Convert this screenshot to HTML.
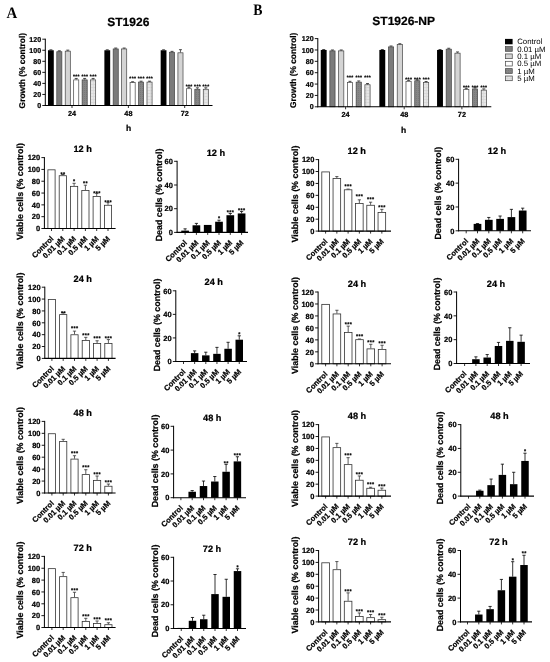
<!DOCTYPE html>
<html><head><meta charset="utf-8"><style>html,body{margin:0;padding:0;background:#fff;overflow:hidden;}svg{display:block;filter:grayscale(1);text-rendering:geometricPrecision;}</style></head>
<body>
<svg width="550" height="662" viewBox="0 0 550 662">
<defs><pattern id="p4" width="2" height="2" patternUnits="userSpaceOnUse"><rect width="2" height="2" fill="#868686"/><rect width="1" height="1" fill="#7a7a7a"/></pattern><pattern id="p5" width="3" height="3" patternUnits="userSpaceOnUse"><rect width="3" height="3" fill="#e6e6e6"/><rect width="3" height="0.6" fill="#d2d2d2"/><rect width="0.6" height="3" fill="#d8d8d8"/></pattern></defs>
<rect width="550" height="662" fill="#fff"/>
<text x="0" y="0" font-family='"Liberation Serif", serif' font-size="16" font-weight="bold" text-anchor="middle" fill="#000" transform="translate(12 17.6) scale(0.93 1)">A</text>
<text x="0" y="0" font-family='"Liberation Serif", serif' font-size="16" font-weight="bold" text-anchor="middle" fill="#000" transform="translate(257.8 15) scale(0.86 1)">B</text>
<rect x="47.98" y="50.25" width="5.8" height="55.25" fill="#000"/>
<line x1="50.88" y1="49.81" x2="50.88" y2="50.25" stroke="#222" stroke-width="0.7"/>
<line x1="49.38" y1="49.81" x2="52.38" y2="49.81" stroke="#222" stroke-width="0.8"/>
<rect x="56.78" y="51.71" width="5.1" height="53.79" fill="#7b7b7b" stroke="#444" stroke-width="0.7"/>
<line x1="59.33" y1="50.8" x2="59.33" y2="51.36" stroke="#222" stroke-width="0.7"/>
<line x1="57.83" y1="50.8" x2="60.83" y2="50.8" stroke="#222" stroke-width="0.8"/>
<rect x="65.22" y="51.15" width="5.1" height="54.35" fill="#d4d4d4" stroke="#444" stroke-width="0.7"/>
<line x1="67.78" y1="50.14" x2="67.78" y2="50.8" stroke="#222" stroke-width="0.7"/>
<line x1="66.28" y1="50.14" x2="69.28" y2="50.14" stroke="#222" stroke-width="0.8"/>
<rect x="73.67" y="79.88" width="5.1" height="25.62" fill="#fff" stroke="#444" stroke-width="0.7"/>
<line x1="76.22" y1="78.43" x2="76.22" y2="79.53" stroke="#222" stroke-width="0.7"/>
<line x1="74.72" y1="78.43" x2="77.72" y2="78.43" stroke="#222" stroke-width="0.8"/>
<text x="76.4" y="78" font-family='"Liberation Sans", sans-serif' font-size="5" font-weight="bold" text-anchor="middle" fill="#000" stroke="#000" stroke-width="0.22" letter-spacing="0.35">***</text>
<rect x="82.12" y="79.88" width="5.1" height="25.62" fill="url(#p4)" stroke="#444" stroke-width="0.7"/>
<line x1="84.67" y1="78.43" x2="84.67" y2="79.53" stroke="#222" stroke-width="0.7"/>
<line x1="83.17" y1="78.43" x2="86.17" y2="78.43" stroke="#222" stroke-width="0.8"/>
<text x="84.85" y="78" font-family='"Liberation Sans", sans-serif' font-size="5" font-weight="bold" text-anchor="middle" fill="#000" stroke="#000" stroke-width="0.22" letter-spacing="0.35">***</text>
<rect x="90.57" y="79.88" width="5.1" height="25.62" fill="url(#p5)" stroke="#444" stroke-width="0.7"/>
<line x1="93.12" y1="78.43" x2="93.12" y2="79.53" stroke="#222" stroke-width="0.7"/>
<line x1="91.62" y1="78.43" x2="94.62" y2="78.43" stroke="#222" stroke-width="0.8"/>
<text x="93.3" y="78" font-family='"Liberation Sans", sans-serif' font-size="5" font-weight="bold" text-anchor="middle" fill="#000" stroke="#000" stroke-width="0.22" letter-spacing="0.35">***</text>
<line x1="72" y1="105.5" x2="72" y2="108" stroke="#000" stroke-width="0.8"/>
<text x="72" y="115.7" font-family='"Liberation Sans", sans-serif' font-size="7.3" font-weight="bold" text-anchor="middle" fill="#000" stroke="#000" stroke-width="0.22" >24</text>
<rect x="104.38" y="50.25" width="5.8" height="55.25" fill="#000"/>
<line x1="107.28" y1="49.81" x2="107.28" y2="50.25" stroke="#222" stroke-width="0.7"/>
<line x1="105.78" y1="49.81" x2="108.78" y2="49.81" stroke="#222" stroke-width="0.8"/>
<rect x="113.17" y="48.94" width="5.1" height="56.56" fill="#7b7b7b" stroke="#444" stroke-width="0.7"/>
<line x1="115.73" y1="48.04" x2="115.73" y2="48.59" stroke="#222" stroke-width="0.7"/>
<line x1="114.23" y1="48.04" x2="117.23" y2="48.04" stroke="#222" stroke-width="0.8"/>
<rect x="121.62" y="48.94" width="5.1" height="56.56" fill="#d4d4d4" stroke="#444" stroke-width="0.7"/>
<line x1="124.18" y1="48.04" x2="124.18" y2="48.59" stroke="#222" stroke-width="0.7"/>
<line x1="122.68" y1="48.04" x2="125.68" y2="48.04" stroke="#222" stroke-width="0.8"/>
<rect x="130.07" y="82.64" width="5.1" height="22.85" fill="#fff" stroke="#444" stroke-width="0.7"/>
<line x1="132.62" y1="81.74" x2="132.62" y2="82.3" stroke="#222" stroke-width="0.7"/>
<line x1="131.12" y1="81.74" x2="134.12" y2="81.74" stroke="#222" stroke-width="0.8"/>
<text x="132.8" y="80.2" font-family='"Liberation Sans", sans-serif' font-size="5" font-weight="bold" text-anchor="middle" fill="#000" stroke="#000" stroke-width="0.22" letter-spacing="0.35">***</text>
<rect x="138.53" y="82.09" width="5.1" height="23.41" fill="url(#p4)" stroke="#444" stroke-width="0.7"/>
<line x1="141.08" y1="81.19" x2="141.08" y2="81.74" stroke="#222" stroke-width="0.7"/>
<line x1="139.58" y1="81.19" x2="142.58" y2="81.19" stroke="#222" stroke-width="0.8"/>
<text x="141.25" y="80.2" font-family='"Liberation Sans", sans-serif' font-size="5" font-weight="bold" text-anchor="middle" fill="#000" stroke="#000" stroke-width="0.22" letter-spacing="0.35">***</text>
<rect x="146.97" y="82.09" width="5.1" height="23.41" fill="url(#p5)" stroke="#444" stroke-width="0.7"/>
<line x1="149.53" y1="81.19" x2="149.53" y2="81.74" stroke="#222" stroke-width="0.7"/>
<line x1="148.03" y1="81.19" x2="151.03" y2="81.19" stroke="#222" stroke-width="0.8"/>
<text x="149.7" y="80.2" font-family='"Liberation Sans", sans-serif' font-size="5" font-weight="bold" text-anchor="middle" fill="#000" stroke="#000" stroke-width="0.22" letter-spacing="0.35">***</text>
<line x1="128.4" y1="105.5" x2="128.4" y2="108" stroke="#000" stroke-width="0.8"/>
<text x="128.4" y="115.7" font-family='"Liberation Sans", sans-serif' font-size="7.3" font-weight="bold" text-anchor="middle" fill="#000" stroke="#000" stroke-width="0.22" >48</text>
<rect x="160.67" y="50.25" width="5.8" height="55.25" fill="#000"/>
<line x1="163.57" y1="49.81" x2="163.57" y2="50.25" stroke="#222" stroke-width="0.7"/>
<line x1="162.07" y1="49.81" x2="165.07" y2="49.81" stroke="#222" stroke-width="0.8"/>
<rect x="169.47" y="52.26" width="5.1" height="53.24" fill="#7b7b7b" stroke="#444" stroke-width="0.7"/>
<line x1="172.02" y1="51.36" x2="172.02" y2="51.91" stroke="#222" stroke-width="0.7"/>
<line x1="170.52" y1="51.36" x2="173.52" y2="51.36" stroke="#222" stroke-width="0.8"/>
<rect x="177.92" y="52.81" width="5.1" height="52.69" fill="#d4d4d4" stroke="#444" stroke-width="0.7"/>
<line x1="180.47" y1="49.7" x2="180.47" y2="52.46" stroke="#222" stroke-width="0.7"/>
<line x1="178.97" y1="49.7" x2="181.97" y2="49.7" stroke="#222" stroke-width="0.8"/>
<rect x="186.37" y="88.72" width="5.1" height="16.78" fill="#fff" stroke="#444" stroke-width="0.7"/>
<line x1="188.92" y1="87.27" x2="188.92" y2="88.37" stroke="#222" stroke-width="0.7"/>
<line x1="187.42" y1="87.27" x2="190.42" y2="87.27" stroke="#222" stroke-width="0.8"/>
<text x="189.1" y="87.5" font-family='"Liberation Sans", sans-serif' font-size="5" font-weight="bold" text-anchor="middle" fill="#000" stroke="#000" stroke-width="0.22" letter-spacing="0.35">***</text>
<rect x="194.82" y="89.27" width="5.1" height="16.23" fill="url(#p4)" stroke="#444" stroke-width="0.7"/>
<line x1="197.38" y1="87.82" x2="197.38" y2="88.92" stroke="#222" stroke-width="0.7"/>
<line x1="195.88" y1="87.82" x2="198.88" y2="87.82" stroke="#222" stroke-width="0.8"/>
<text x="197.55" y="87.5" font-family='"Liberation Sans", sans-serif' font-size="5" font-weight="bold" text-anchor="middle" fill="#000" stroke="#000" stroke-width="0.22" letter-spacing="0.35">***</text>
<rect x="203.27" y="89.27" width="5.1" height="16.23" fill="url(#p5)" stroke="#444" stroke-width="0.7"/>
<line x1="205.82" y1="87.82" x2="205.82" y2="88.92" stroke="#222" stroke-width="0.7"/>
<line x1="204.32" y1="87.82" x2="207.32" y2="87.82" stroke="#222" stroke-width="0.8"/>
<text x="206" y="87.5" font-family='"Liberation Sans", sans-serif' font-size="5" font-weight="bold" text-anchor="middle" fill="#000" stroke="#000" stroke-width="0.22" letter-spacing="0.35">***</text>
<line x1="184.7" y1="105.5" x2="184.7" y2="108" stroke="#000" stroke-width="0.8"/>
<text x="184.7" y="115.7" font-family='"Liberation Sans", sans-serif' font-size="7.3" font-weight="bold" text-anchor="middle" fill="#000" stroke="#000" stroke-width="0.22" >72</text>
<line x1="45.3" y1="38.7" x2="45.3" y2="106" stroke="#000" stroke-width="1"/>
<line x1="42.3" y1="105.5" x2="45.3" y2="105.5" stroke="#000" stroke-width="0.9"/>
<text x="41.1" y="108.06" font-family='"Liberation Sans", sans-serif' font-size="7.1" font-weight="bold" text-anchor="end" fill="#000" stroke="#000" stroke-width="0.22" >0</text>
<line x1="42.3" y1="94.45" x2="45.3" y2="94.45" stroke="#000" stroke-width="0.9"/>
<text x="41.1" y="97.01" font-family='"Liberation Sans", sans-serif' font-size="7.1" font-weight="bold" text-anchor="end" fill="#000" stroke="#000" stroke-width="0.22" >20</text>
<line x1="42.3" y1="83.4" x2="45.3" y2="83.4" stroke="#000" stroke-width="0.9"/>
<text x="41.1" y="85.96" font-family='"Liberation Sans", sans-serif' font-size="7.1" font-weight="bold" text-anchor="end" fill="#000" stroke="#000" stroke-width="0.22" >40</text>
<line x1="42.3" y1="72.35" x2="45.3" y2="72.35" stroke="#000" stroke-width="0.9"/>
<text x="41.1" y="74.91" font-family='"Liberation Sans", sans-serif' font-size="7.1" font-weight="bold" text-anchor="end" fill="#000" stroke="#000" stroke-width="0.22" >60</text>
<line x1="42.3" y1="61.3" x2="45.3" y2="61.3" stroke="#000" stroke-width="0.9"/>
<text x="41.1" y="63.86" font-family='"Liberation Sans", sans-serif' font-size="7.1" font-weight="bold" text-anchor="end" fill="#000" stroke="#000" stroke-width="0.22" >80</text>
<line x1="42.3" y1="50.25" x2="45.3" y2="50.25" stroke="#000" stroke-width="0.9"/>
<text x="41.1" y="52.81" font-family='"Liberation Sans", sans-serif' font-size="7.1" font-weight="bold" text-anchor="end" fill="#000" stroke="#000" stroke-width="0.22" >100</text>
<line x1="42.3" y1="39.2" x2="45.3" y2="39.2" stroke="#000" stroke-width="0.9"/>
<text x="41.1" y="41.76" font-family='"Liberation Sans", sans-serif' font-size="7.1" font-weight="bold" text-anchor="end" fill="#000" stroke="#000" stroke-width="0.22" >120</text>
<line x1="44.8" y1="105.5" x2="212.5" y2="105.5" stroke="#000" stroke-width="1.1"/>
<text x="128.7" y="131" font-family='"Liberation Sans", sans-serif' font-size="8.5" font-weight="bold" text-anchor="middle" fill="#000" stroke="#000" stroke-width="0.22" >h</text>
<text x="128.3" y="26" font-family='"Liberation Sans", sans-serif' font-size="12" font-weight="bold" text-anchor="middle" fill="#000" stroke="#000" stroke-width="0.22" >ST1926</text>
<text x="25.3" y="70.7" font-family='"Liberation Sans", sans-serif' font-size="8.4" font-weight="bold" text-anchor="middle" fill="#000" stroke="#000" stroke-width="0.22" transform="rotate(-90 25.3 70.7)">Growth (% control)</text>
<rect x="320.75" y="49.97" width="5.9" height="56.83" fill="#000"/>
<line x1="323.7" y1="49.51" x2="323.7" y2="49.97" stroke="#222" stroke-width="0.7"/>
<line x1="322.2" y1="49.51" x2="325.2" y2="49.51" stroke="#222" stroke-width="0.8"/>
<rect x="329.86" y="50.89" width="5.2" height="55.91" fill="#7b7b7b" stroke="#444" stroke-width="0.7"/>
<line x1="332.46" y1="49.97" x2="332.46" y2="50.54" stroke="#222" stroke-width="0.7"/>
<line x1="330.96" y1="49.97" x2="333.96" y2="49.97" stroke="#222" stroke-width="0.8"/>
<rect x="338.62" y="50.89" width="5.2" height="55.91" fill="#d4d4d4" stroke="#444" stroke-width="0.7"/>
<line x1="341.22" y1="49.97" x2="341.22" y2="50.54" stroke="#222" stroke-width="0.7"/>
<line x1="339.72" y1="49.97" x2="342.72" y2="49.97" stroke="#222" stroke-width="0.8"/>
<rect x="347.38" y="82.54" width="5.2" height="24.26" fill="#fff" stroke="#444" stroke-width="0.7"/>
<line x1="349.98" y1="81.34" x2="349.98" y2="82.19" stroke="#222" stroke-width="0.7"/>
<line x1="348.48" y1="81.34" x2="351.48" y2="81.34" stroke="#222" stroke-width="0.8"/>
<text x="350.16" y="78.5" font-family='"Liberation Sans", sans-serif' font-size="5" font-weight="bold" text-anchor="middle" fill="#000" stroke="#000" stroke-width="0.22" letter-spacing="0.35">***</text>
<rect x="356.14" y="82.14" width="5.2" height="24.66" fill="url(#p4)" stroke="#444" stroke-width="0.7"/>
<line x1="358.74" y1="80.94" x2="358.74" y2="81.79" stroke="#222" stroke-width="0.7"/>
<line x1="357.24" y1="80.94" x2="360.24" y2="80.94" stroke="#222" stroke-width="0.8"/>
<text x="358.92" y="78.5" font-family='"Liberation Sans", sans-serif' font-size="5" font-weight="bold" text-anchor="middle" fill="#000" stroke="#000" stroke-width="0.22" letter-spacing="0.35">***</text>
<rect x="364.9" y="84.76" width="5.2" height="22.04" fill="url(#p5)" stroke="#444" stroke-width="0.7"/>
<line x1="367.5" y1="83.56" x2="367.5" y2="84.41" stroke="#222" stroke-width="0.7"/>
<line x1="366" y1="83.56" x2="369" y2="83.56" stroke="#222" stroke-width="0.8"/>
<text x="367.68" y="78.5" font-family='"Liberation Sans", sans-serif' font-size="5" font-weight="bold" text-anchor="middle" fill="#000" stroke="#000" stroke-width="0.22" letter-spacing="0.35">***</text>
<line x1="345.6" y1="106.8" x2="345.6" y2="109.3" stroke="#000" stroke-width="0.8"/>
<text x="345.6" y="117" font-family='"Liberation Sans", sans-serif' font-size="7.3" font-weight="bold" text-anchor="middle" fill="#000" stroke="#000" stroke-width="0.22" >24</text>
<rect x="379.35" y="49.97" width="5.9" height="56.83" fill="#000"/>
<line x1="382.3" y1="49.51" x2="382.3" y2="49.97" stroke="#222" stroke-width="0.7"/>
<line x1="380.8" y1="49.51" x2="383.8" y2="49.51" stroke="#222" stroke-width="0.8"/>
<rect x="388.46" y="46.91" width="5.2" height="59.89" fill="#7b7b7b" stroke="#444" stroke-width="0.7"/>
<line x1="391.06" y1="45.99" x2="391.06" y2="46.56" stroke="#222" stroke-width="0.7"/>
<line x1="389.56" y1="45.99" x2="392.56" y2="45.99" stroke="#222" stroke-width="0.8"/>
<rect x="397.22" y="44.63" width="5.2" height="62.17" fill="#d4d4d4" stroke="#444" stroke-width="0.7"/>
<line x1="399.82" y1="43.72" x2="399.82" y2="44.28" stroke="#222" stroke-width="0.7"/>
<line x1="398.32" y1="43.72" x2="401.32" y2="43.72" stroke="#222" stroke-width="0.8"/>
<rect x="405.98" y="81.29" width="5.2" height="25.51" fill="#fff" stroke="#444" stroke-width="0.7"/>
<line x1="408.58" y1="80.37" x2="408.58" y2="80.94" stroke="#222" stroke-width="0.7"/>
<line x1="407.08" y1="80.37" x2="410.08" y2="80.37" stroke="#222" stroke-width="0.8"/>
<text x="408.75" y="81" font-family='"Liberation Sans", sans-serif' font-size="5" font-weight="bold" text-anchor="middle" fill="#000" stroke="#000" stroke-width="0.22" letter-spacing="0.35">***</text>
<rect x="414.74" y="80.78" width="5.2" height="26.02" fill="url(#p4)" stroke="#444" stroke-width="0.7"/>
<line x1="417.34" y1="79.86" x2="417.34" y2="80.43" stroke="#222" stroke-width="0.7"/>
<line x1="415.84" y1="79.86" x2="418.84" y2="79.86" stroke="#222" stroke-width="0.8"/>
<text x="417.51" y="81" font-family='"Liberation Sans", sans-serif' font-size="5" font-weight="bold" text-anchor="middle" fill="#000" stroke="#000" stroke-width="0.22" letter-spacing="0.35">***</text>
<rect x="423.5" y="82.43" width="5.2" height="24.37" fill="url(#p5)" stroke="#444" stroke-width="0.7"/>
<line x1="426.1" y1="81.51" x2="426.1" y2="82.08" stroke="#222" stroke-width="0.7"/>
<line x1="424.6" y1="81.51" x2="427.6" y2="81.51" stroke="#222" stroke-width="0.8"/>
<text x="426.27" y="81" font-family='"Liberation Sans", sans-serif' font-size="5" font-weight="bold" text-anchor="middle" fill="#000" stroke="#000" stroke-width="0.22" letter-spacing="0.35">***</text>
<line x1="404.2" y1="106.8" x2="404.2" y2="109.3" stroke="#000" stroke-width="0.8"/>
<text x="404.2" y="117" font-family='"Liberation Sans", sans-serif' font-size="7.3" font-weight="bold" text-anchor="middle" fill="#000" stroke="#000" stroke-width="0.22" >48</text>
<rect x="437.05" y="49.97" width="5.9" height="56.83" fill="#000"/>
<line x1="440" y1="49.51" x2="440" y2="49.97" stroke="#222" stroke-width="0.7"/>
<line x1="438.5" y1="49.51" x2="441.5" y2="49.51" stroke="#222" stroke-width="0.8"/>
<rect x="446.16" y="49.18" width="5.2" height="57.62" fill="#7b7b7b" stroke="#444" stroke-width="0.7"/>
<line x1="448.76" y1="48.26" x2="448.76" y2="48.83" stroke="#222" stroke-width="0.7"/>
<line x1="447.26" y1="48.26" x2="450.26" y2="48.26" stroke="#222" stroke-width="0.8"/>
<rect x="454.92" y="53.16" width="5.2" height="53.64" fill="#d4d4d4" stroke="#444" stroke-width="0.7"/>
<line x1="457.52" y1="51.96" x2="457.52" y2="52.81" stroke="#222" stroke-width="0.7"/>
<line x1="456.02" y1="51.96" x2="459.02" y2="51.96" stroke="#222" stroke-width="0.8"/>
<rect x="463.68" y="89.53" width="5.2" height="17.27" fill="#fff" stroke="#444" stroke-width="0.7"/>
<line x1="466.28" y1="88.33" x2="466.28" y2="89.18" stroke="#222" stroke-width="0.7"/>
<line x1="464.78" y1="88.33" x2="467.78" y2="88.33" stroke="#222" stroke-width="0.8"/>
<text x="466.45" y="88.5" font-family='"Liberation Sans", sans-serif' font-size="5" font-weight="bold" text-anchor="middle" fill="#000" stroke="#000" stroke-width="0.22" letter-spacing="0.35">***</text>
<rect x="472.44" y="88.96" width="5.2" height="17.84" fill="url(#p4)" stroke="#444" stroke-width="0.7"/>
<line x1="475.04" y1="87.76" x2="475.04" y2="88.61" stroke="#222" stroke-width="0.7"/>
<line x1="473.54" y1="87.76" x2="476.54" y2="87.76" stroke="#222" stroke-width="0.8"/>
<text x="475.21" y="88.5" font-family='"Liberation Sans", sans-serif' font-size="5" font-weight="bold" text-anchor="middle" fill="#000" stroke="#000" stroke-width="0.22" letter-spacing="0.35">***</text>
<rect x="481.2" y="90.1" width="5.2" height="16.7" fill="url(#p5)" stroke="#444" stroke-width="0.7"/>
<line x1="483.8" y1="88.9" x2="483.8" y2="89.75" stroke="#222" stroke-width="0.7"/>
<line x1="482.3" y1="88.9" x2="485.3" y2="88.9" stroke="#222" stroke-width="0.8"/>
<text x="483.97" y="88.5" font-family='"Liberation Sans", sans-serif' font-size="5" font-weight="bold" text-anchor="middle" fill="#000" stroke="#000" stroke-width="0.22" letter-spacing="0.35">***</text>
<line x1="461.9" y1="106.8" x2="461.9" y2="109.3" stroke="#000" stroke-width="0.8"/>
<text x="461.9" y="117" font-family='"Liberation Sans", sans-serif' font-size="7.3" font-weight="bold" text-anchor="middle" fill="#000" stroke="#000" stroke-width="0.22" >72</text>
<line x1="317.8" y1="38.1" x2="317.8" y2="107.3" stroke="#000" stroke-width="1"/>
<line x1="314.8" y1="106.8" x2="317.8" y2="106.8" stroke="#000" stroke-width="0.9"/>
<text x="313.6" y="109.36" font-family='"Liberation Sans", sans-serif' font-size="7.1" font-weight="bold" text-anchor="end" fill="#000" stroke="#000" stroke-width="0.22" >0</text>
<line x1="314.8" y1="95.43" x2="317.8" y2="95.43" stroke="#000" stroke-width="0.9"/>
<text x="313.6" y="97.99" font-family='"Liberation Sans", sans-serif' font-size="7.1" font-weight="bold" text-anchor="end" fill="#000" stroke="#000" stroke-width="0.22" >20</text>
<line x1="314.8" y1="84.07" x2="317.8" y2="84.07" stroke="#000" stroke-width="0.9"/>
<text x="313.6" y="86.62" font-family='"Liberation Sans", sans-serif' font-size="7.1" font-weight="bold" text-anchor="end" fill="#000" stroke="#000" stroke-width="0.22" >40</text>
<line x1="314.8" y1="72.7" x2="317.8" y2="72.7" stroke="#000" stroke-width="0.9"/>
<text x="313.6" y="75.26" font-family='"Liberation Sans", sans-serif' font-size="7.1" font-weight="bold" text-anchor="end" fill="#000" stroke="#000" stroke-width="0.22" >60</text>
<line x1="314.8" y1="61.33" x2="317.8" y2="61.33" stroke="#000" stroke-width="0.9"/>
<text x="313.6" y="63.89" font-family='"Liberation Sans", sans-serif' font-size="7.1" font-weight="bold" text-anchor="end" fill="#000" stroke="#000" stroke-width="0.22" >80</text>
<line x1="314.8" y1="49.97" x2="317.8" y2="49.97" stroke="#000" stroke-width="0.9"/>
<text x="313.6" y="52.52" font-family='"Liberation Sans", sans-serif' font-size="7.1" font-weight="bold" text-anchor="end" fill="#000" stroke="#000" stroke-width="0.22" >100</text>
<line x1="314.8" y1="38.6" x2="317.8" y2="38.6" stroke="#000" stroke-width="0.9"/>
<text x="313.6" y="41.16" font-family='"Liberation Sans", sans-serif' font-size="7.1" font-weight="bold" text-anchor="end" fill="#000" stroke="#000" stroke-width="0.22" >120</text>
<line x1="317.3" y1="106.8" x2="491.3" y2="106.8" stroke="#000" stroke-width="1.1"/>
<text x="403.6" y="133" font-family='"Liberation Sans", sans-serif' font-size="8.5" font-weight="bold" text-anchor="middle" fill="#000" stroke="#000" stroke-width="0.22" >h</text>
<text x="403.7" y="25.2" font-family='"Liberation Sans", sans-serif' font-size="12" font-weight="bold" text-anchor="middle" fill="#000" stroke="#000" stroke-width="0.22" >ST1926-NP</text>
<text x="296.5" y="70.3" font-family='"Liberation Sans", sans-serif' font-size="8.4" font-weight="bold" text-anchor="middle" fill="#000" stroke="#000" stroke-width="0.22" transform="rotate(-90 296.5 70.3)">Growth (% control)</text>
<rect x="505" y="38.9" width="7.6" height="5.4" fill="#000"/>
<text x="517.2" y="44.2" font-family='"Liberation Sans", sans-serif' font-size="7.8" font-weight="normal" text-anchor="start" fill="#000" >Control</text>
<rect x="505.35" y="46.6" width="6.9" height="4.7" fill="#7b7b7b" stroke="#444" stroke-width="0.7"/>
<text x="517.2" y="51.55" font-family='"Liberation Sans", sans-serif' font-size="7.8" font-weight="normal" text-anchor="start" fill="#000" >0.01 µM</text>
<rect x="505.35" y="53.95" width="6.9" height="4.7" fill="#d4d4d4" stroke="#444" stroke-width="0.7"/>
<text x="517.2" y="58.9" font-family='"Liberation Sans", sans-serif' font-size="7.8" font-weight="normal" text-anchor="start" fill="#000" >0.1 µM</text>
<rect x="505.35" y="61.3" width="6.9" height="4.7" fill="#fff" stroke="#444" stroke-width="0.7"/>
<text x="517.2" y="66.25" font-family='"Liberation Sans", sans-serif' font-size="7.8" font-weight="normal" text-anchor="start" fill="#000" >0.5 µM</text>
<rect x="505.35" y="68.65" width="6.9" height="4.7" fill="url(#p4)" stroke="#444" stroke-width="0.7"/>
<text x="517.2" y="73.6" font-family='"Liberation Sans", sans-serif' font-size="7.8" font-weight="normal" text-anchor="start" fill="#000" >1 µM</text>
<rect x="505.35" y="76" width="6.9" height="4.7" fill="url(#p5)" stroke="#444" stroke-width="0.7"/>
<text x="517.2" y="80.95" font-family='"Liberation Sans", sans-serif' font-size="7.8" font-weight="normal" text-anchor="start" fill="#000" >5 µM</text>
<rect x="47.9" y="169.82" width="7.2" height="58.68" fill="#fff" stroke="#333" stroke-width="0.8"/>
<line x1="51.5" y1="228.5" x2="51.5" y2="231" stroke="#000" stroke-width="0.8"/>
<line x1="62.8" y1="174.44" x2="62.8" y2="175.32" stroke="#333" stroke-width="0.8"/>
<line x1="61.2" y1="174.44" x2="64.4" y2="174.44" stroke="#333" stroke-width="0.8"/>
<rect x="59.2" y="175.72" width="7.2" height="52.78" fill="#fff" stroke="#333" stroke-width="0.8"/>
<text x="63" y="175.9" font-family='"Liberation Sans", sans-serif' font-size="5.4" font-weight="bold" text-anchor="middle" fill="#000" stroke="#000" stroke-width="0.22" letter-spacing="0.4">**</text>
<line x1="62.8" y1="228.5" x2="62.8" y2="231" stroke="#000" stroke-width="0.8"/>
<line x1="74.1" y1="183.3" x2="74.1" y2="185.96" stroke="#333" stroke-width="0.8"/>
<line x1="72.5" y1="183.3" x2="75.7" y2="183.3" stroke="#333" stroke-width="0.8"/>
<rect x="70.5" y="186.36" width="7.2" height="42.14" fill="#fff" stroke="#333" stroke-width="0.8"/>
<text x="74.3" y="182.8" font-family='"Liberation Sans", sans-serif' font-size="5.4" font-weight="bold" text-anchor="middle" fill="#000" stroke="#000" stroke-width="0.22" letter-spacing="0.4">*</text>
<line x1="74.1" y1="228.5" x2="74.1" y2="231" stroke="#000" stroke-width="0.8"/>
<line x1="85.4" y1="185.19" x2="85.4" y2="190.1" stroke="#333" stroke-width="0.8"/>
<line x1="83.8" y1="185.19" x2="87" y2="185.19" stroke="#333" stroke-width="0.8"/>
<rect x="81.8" y="190.5" width="7.2" height="38" fill="#fff" stroke="#333" stroke-width="0.8"/>
<text x="85.6" y="184.6" font-family='"Liberation Sans", sans-serif' font-size="5.4" font-weight="bold" text-anchor="middle" fill="#000" stroke="#000" stroke-width="0.22" letter-spacing="0.4">**</text>
<line x1="85.4" y1="228.5" x2="85.4" y2="231" stroke="#000" stroke-width="0.8"/>
<line x1="96.7" y1="193.4" x2="96.7" y2="196" stroke="#333" stroke-width="0.8"/>
<line x1="95.1" y1="193.4" x2="98.3" y2="193.4" stroke="#333" stroke-width="0.8"/>
<rect x="93.1" y="196.4" width="7.2" height="32.1" fill="#fff" stroke="#333" stroke-width="0.8"/>
<text x="96.9" y="194.6" font-family='"Liberation Sans", sans-serif' font-size="5.4" font-weight="bold" text-anchor="middle" fill="#000" stroke="#000" stroke-width="0.22" letter-spacing="0.4">***</text>
<line x1="96.7" y1="228.5" x2="96.7" y2="231" stroke="#000" stroke-width="0.8"/>
<line x1="108" y1="202.62" x2="108" y2="204.87" stroke="#333" stroke-width="0.8"/>
<line x1="106.4" y1="202.62" x2="109.6" y2="202.62" stroke="#333" stroke-width="0.8"/>
<rect x="104.4" y="205.27" width="7.2" height="23.23" fill="#fff" stroke="#333" stroke-width="0.8"/>
<text x="108.2" y="203.8" font-family='"Liberation Sans", sans-serif' font-size="5.4" font-weight="bold" text-anchor="middle" fill="#000" stroke="#000" stroke-width="0.22" letter-spacing="0.4">***</text>
<line x1="108" y1="228.5" x2="108" y2="231" stroke="#000" stroke-width="0.8"/>
<line x1="44.4" y1="157.1" x2="44.4" y2="229" stroke="#000" stroke-width="1"/>
<line x1="41.4" y1="228.5" x2="44.4" y2="228.5" stroke="#000" stroke-width="0.9"/>
<text x="40.2" y="231.2" font-family='"Liberation Sans", sans-serif' font-size="7.5" font-weight="bold" text-anchor="end" fill="#000" stroke="#000" stroke-width="0.22" >0</text>
<line x1="41.4" y1="216.68" x2="44.4" y2="216.68" stroke="#000" stroke-width="0.9"/>
<text x="40.2" y="219.38" font-family='"Liberation Sans", sans-serif' font-size="7.5" font-weight="bold" text-anchor="end" fill="#000" stroke="#000" stroke-width="0.22" >20</text>
<line x1="41.4" y1="204.87" x2="44.4" y2="204.87" stroke="#000" stroke-width="0.9"/>
<text x="40.2" y="207.57" font-family='"Liberation Sans", sans-serif' font-size="7.5" font-weight="bold" text-anchor="end" fill="#000" stroke="#000" stroke-width="0.22" >40</text>
<line x1="41.4" y1="193.05" x2="44.4" y2="193.05" stroke="#000" stroke-width="0.9"/>
<text x="40.2" y="195.75" font-family='"Liberation Sans", sans-serif' font-size="7.5" font-weight="bold" text-anchor="end" fill="#000" stroke="#000" stroke-width="0.22" >60</text>
<line x1="41.4" y1="181.23" x2="44.4" y2="181.23" stroke="#000" stroke-width="0.9"/>
<text x="40.2" y="183.93" font-family='"Liberation Sans", sans-serif' font-size="7.5" font-weight="bold" text-anchor="end" fill="#000" stroke="#000" stroke-width="0.22" >80</text>
<line x1="41.4" y1="169.42" x2="44.4" y2="169.42" stroke="#000" stroke-width="0.9"/>
<text x="40.2" y="172.12" font-family='"Liberation Sans", sans-serif' font-size="7.5" font-weight="bold" text-anchor="end" fill="#000" stroke="#000" stroke-width="0.22" >100</text>
<line x1="41.4" y1="157.6" x2="44.4" y2="157.6" stroke="#000" stroke-width="0.9"/>
<text x="40.2" y="160.3" font-family='"Liberation Sans", sans-serif' font-size="7.5" font-weight="bold" text-anchor="end" fill="#000" stroke="#000" stroke-width="0.22" >120</text>
<line x1="43.9" y1="228.5" x2="115.6" y2="228.5" stroke="#000" stroke-width="1.1"/>
<text x="54" y="239.3" font-family='"Liberation Sans", sans-serif' font-size="7.6" font-weight="bold" text-anchor="end" fill="#000" stroke="#000" stroke-width="0.22" transform="rotate(-45 54 239.3)">Control</text>
<text x="65.3" y="239.3" font-family='"Liberation Sans", sans-serif' font-size="7.6" font-weight="bold" text-anchor="end" fill="#000" stroke="#000" stroke-width="0.22" transform="rotate(-45 65.3 239.3)">0.01 µM</text>
<text x="76.6" y="239.3" font-family='"Liberation Sans", sans-serif' font-size="7.6" font-weight="bold" text-anchor="end" fill="#000" stroke="#000" stroke-width="0.22" transform="rotate(-45 76.6 239.3)">0.1 µM</text>
<text x="87.9" y="239.3" font-family='"Liberation Sans", sans-serif' font-size="7.6" font-weight="bold" text-anchor="end" fill="#000" stroke="#000" stroke-width="0.22" transform="rotate(-45 87.9 239.3)">0.5 µM</text>
<text x="99.2" y="239.3" font-family='"Liberation Sans", sans-serif' font-size="7.6" font-weight="bold" text-anchor="end" fill="#000" stroke="#000" stroke-width="0.22" transform="rotate(-45 99.2 239.3)">1 µM</text>
<text x="110.5" y="239.3" font-family='"Liberation Sans", sans-serif' font-size="7.6" font-weight="bold" text-anchor="end" fill="#000" stroke="#000" stroke-width="0.22" transform="rotate(-45 110.5 239.3)">5 µM</text>
<text x="82.7" y="152.4" font-family='"Liberation Sans", sans-serif' font-size="9.2" font-weight="bold" text-anchor="middle" fill="#000" stroke="#000" stroke-width="0.22" >12 h</text>
<text x="23" y="191.6" font-family='"Liberation Sans", sans-serif' font-size="8.9" font-weight="bold" text-anchor="middle" fill="#000" stroke="#000" stroke-width="0.22" transform="rotate(-90 23 191.6)">Viable cells (% control)</text>
<line x1="185.1" y1="228.84" x2="185.1" y2="230.62" stroke="#000" stroke-width="0.8"/>
<line x1="183.5" y1="228.84" x2="186.7" y2="228.84" stroke="#000" stroke-width="0.8"/>
<rect x="181.25" y="230.62" width="7.7" height="1.78" fill="#000"/>
<line x1="185.1" y1="232.4" x2="185.1" y2="234.9" stroke="#000" stroke-width="0.8"/>
<line x1="196.4" y1="223.39" x2="196.4" y2="225.29" stroke="#000" stroke-width="0.8"/>
<line x1="194.8" y1="223.39" x2="198" y2="223.39" stroke="#000" stroke-width="0.8"/>
<rect x="192.55" y="225.29" width="7.7" height="7.11" fill="#000"/>
<line x1="196.4" y1="232.4" x2="196.4" y2="234.9" stroke="#000" stroke-width="0.8"/>
<rect x="203.85" y="224.93" width="7.7" height="7.47" fill="#000"/>
<line x1="207.7" y1="232.4" x2="207.7" y2="234.9" stroke="#000" stroke-width="0.8"/>
<line x1="219" y1="220.19" x2="219" y2="221.74" stroke="#000" stroke-width="0.8"/>
<line x1="217.4" y1="220.19" x2="220.6" y2="220.19" stroke="#000" stroke-width="0.8"/>
<rect x="215.15" y="221.74" width="7.7" height="10.66" fill="#000"/>
<text x="219.2" y="220.39" font-family='"Liberation Sans", sans-serif' font-size="5.4" font-weight="bold" text-anchor="middle" fill="#000" stroke="#000" stroke-width="0.22" letter-spacing="0.4">*</text>
<line x1="219" y1="232.4" x2="219" y2="234.9" stroke="#000" stroke-width="0.8"/>
<line x1="230.3" y1="213.44" x2="230.3" y2="215.22" stroke="#000" stroke-width="0.8"/>
<line x1="228.7" y1="213.44" x2="231.9" y2="213.44" stroke="#000" stroke-width="0.8"/>
<rect x="226.45" y="215.22" width="7.7" height="17.18" fill="#000"/>
<text x="230.5" y="213.64" font-family='"Liberation Sans", sans-serif' font-size="5.4" font-weight="bold" text-anchor="middle" fill="#000" stroke="#000" stroke-width="0.22" letter-spacing="0.4">***</text>
<line x1="230.3" y1="232.4" x2="230.3" y2="234.9" stroke="#000" stroke-width="0.8"/>
<line x1="241.6" y1="211.43" x2="241.6" y2="213.44" stroke="#000" stroke-width="0.8"/>
<line x1="240" y1="211.43" x2="243.2" y2="211.43" stroke="#000" stroke-width="0.8"/>
<rect x="237.75" y="213.44" width="7.7" height="18.96" fill="#000"/>
<text x="241.8" y="211.63" font-family='"Liberation Sans", sans-serif' font-size="5.4" font-weight="bold" text-anchor="middle" fill="#000" stroke="#000" stroke-width="0.22" letter-spacing="0.4">***</text>
<line x1="241.6" y1="232.4" x2="241.6" y2="234.9" stroke="#000" stroke-width="0.8"/>
<line x1="177.1" y1="160.8" x2="177.1" y2="232.9" stroke="#000" stroke-width="1"/>
<line x1="174.1" y1="232.4" x2="177.1" y2="232.4" stroke="#000" stroke-width="0.9"/>
<text x="172.9" y="235.1" font-family='"Liberation Sans", sans-serif' font-size="7.5" font-weight="bold" text-anchor="end" fill="#000" stroke="#000" stroke-width="0.22" >0</text>
<line x1="174.1" y1="208.7" x2="177.1" y2="208.7" stroke="#000" stroke-width="0.9"/>
<text x="172.9" y="211.4" font-family='"Liberation Sans", sans-serif' font-size="7.5" font-weight="bold" text-anchor="end" fill="#000" stroke="#000" stroke-width="0.22" >20</text>
<line x1="174.1" y1="185" x2="177.1" y2="185" stroke="#000" stroke-width="0.9"/>
<text x="172.9" y="187.7" font-family='"Liberation Sans", sans-serif' font-size="7.5" font-weight="bold" text-anchor="end" fill="#000" stroke="#000" stroke-width="0.22" >40</text>
<line x1="174.1" y1="161.3" x2="177.1" y2="161.3" stroke="#000" stroke-width="0.9"/>
<text x="172.9" y="164" font-family='"Liberation Sans", sans-serif' font-size="7.5" font-weight="bold" text-anchor="end" fill="#000" stroke="#000" stroke-width="0.22" >60</text>
<line x1="176.6" y1="232.4" x2="248" y2="232.4" stroke="#000" stroke-width="1.1"/>
<text x="187.6" y="243.2" font-family='"Liberation Sans", sans-serif' font-size="7.6" font-weight="bold" text-anchor="end" fill="#000" stroke="#000" stroke-width="0.22" transform="rotate(-45 187.6 243.2)">Control</text>
<text x="198.9" y="243.2" font-family='"Liberation Sans", sans-serif' font-size="7.6" font-weight="bold" text-anchor="end" fill="#000" stroke="#000" stroke-width="0.22" transform="rotate(-45 198.9 243.2)">0.01 µM</text>
<text x="210.2" y="243.2" font-family='"Liberation Sans", sans-serif' font-size="7.6" font-weight="bold" text-anchor="end" fill="#000" stroke="#000" stroke-width="0.22" transform="rotate(-45 210.2 243.2)">0.1 µM</text>
<text x="221.5" y="243.2" font-family='"Liberation Sans", sans-serif' font-size="7.6" font-weight="bold" text-anchor="end" fill="#000" stroke="#000" stroke-width="0.22" transform="rotate(-45 221.5 243.2)">0.5 µM</text>
<text x="232.8" y="243.2" font-family='"Liberation Sans", sans-serif' font-size="7.6" font-weight="bold" text-anchor="end" fill="#000" stroke="#000" stroke-width="0.22" transform="rotate(-45 232.8 243.2)">1 µM</text>
<text x="244.1" y="243.2" font-family='"Liberation Sans", sans-serif' font-size="7.6" font-weight="bold" text-anchor="end" fill="#000" stroke="#000" stroke-width="0.22" transform="rotate(-45 244.1 243.2)">5 µM</text>
<text x="215.9" y="156" font-family='"Liberation Sans", sans-serif' font-size="9.2" font-weight="bold" text-anchor="middle" fill="#000" stroke="#000" stroke-width="0.22" >12 h</text>
<text x="161.5" y="195" font-family='"Liberation Sans", sans-serif' font-size="8.9" font-weight="bold" text-anchor="middle" fill="#000" stroke="#000" stroke-width="0.22" transform="rotate(-90 161.5 195)">Dead cells (% control)</text>
<rect x="321.8" y="171.92" width="7.6" height="59.18" fill="#fff" stroke="#333" stroke-width="0.8"/>
<line x1="325.6" y1="231.1" x2="325.6" y2="233.6" stroke="#000" stroke-width="0.8"/>
<line x1="336.85" y1="176.58" x2="336.85" y2="178.07" stroke="#333" stroke-width="0.8"/>
<line x1="335.25" y1="176.58" x2="338.45" y2="176.58" stroke="#333" stroke-width="0.8"/>
<rect x="333.05" y="178.47" width="7.6" height="52.63" fill="#fff" stroke="#333" stroke-width="0.8"/>
<line x1="336.85" y1="231.1" x2="336.85" y2="233.6" stroke="#000" stroke-width="0.8"/>
<line x1="348.1" y1="189.09" x2="348.1" y2="189.39" stroke="#333" stroke-width="0.8"/>
<line x1="346.5" y1="189.09" x2="349.7" y2="189.09" stroke="#333" stroke-width="0.8"/>
<rect x="344.3" y="189.79" width="7.6" height="41.31" fill="#fff" stroke="#333" stroke-width="0.8"/>
<text x="348.3" y="187.9" font-family='"Liberation Sans", sans-serif' font-size="5.4" font-weight="bold" text-anchor="middle" fill="#000" stroke="#000" stroke-width="0.22" letter-spacing="0.4">***</text>
<line x1="348.1" y1="231.1" x2="348.1" y2="233.6" stroke="#000" stroke-width="0.8"/>
<line x1="359.35" y1="199.82" x2="359.35" y2="203.1" stroke="#333" stroke-width="0.8"/>
<line x1="357.75" y1="199.82" x2="360.95" y2="199.82" stroke="#333" stroke-width="0.8"/>
<rect x="355.55" y="203.5" width="7.6" height="27.6" fill="#fff" stroke="#333" stroke-width="0.8"/>
<text x="359.55" y="198.3" font-family='"Liberation Sans", sans-serif' font-size="5.4" font-weight="bold" text-anchor="middle" fill="#000" stroke="#000" stroke-width="0.22" letter-spacing="0.4">***</text>
<line x1="359.35" y1="231.1" x2="359.35" y2="233.6" stroke="#000" stroke-width="0.8"/>
<line x1="370.6" y1="202.2" x2="370.6" y2="204.88" stroke="#333" stroke-width="0.8"/>
<line x1="369" y1="202.2" x2="372.2" y2="202.2" stroke="#333" stroke-width="0.8"/>
<rect x="366.8" y="205.28" width="7.6" height="25.82" fill="#fff" stroke="#333" stroke-width="0.8"/>
<text x="370.8" y="201.3" font-family='"Liberation Sans", sans-serif' font-size="5.4" font-weight="bold" text-anchor="middle" fill="#000" stroke="#000" stroke-width="0.22" letter-spacing="0.4">***</text>
<line x1="370.6" y1="231.1" x2="370.6" y2="233.6" stroke="#000" stroke-width="0.8"/>
<line x1="381.85" y1="209.35" x2="381.85" y2="212.03" stroke="#333" stroke-width="0.8"/>
<line x1="380.25" y1="209.35" x2="383.45" y2="209.35" stroke="#333" stroke-width="0.8"/>
<rect x="378.05" y="212.43" width="7.6" height="18.67" fill="#fff" stroke="#333" stroke-width="0.8"/>
<text x="382.05" y="209" font-family='"Liberation Sans", sans-serif' font-size="5.4" font-weight="bold" text-anchor="middle" fill="#000" stroke="#000" stroke-width="0.22" letter-spacing="0.4">***</text>
<line x1="381.85" y1="231.1" x2="381.85" y2="233.6" stroke="#000" stroke-width="0.8"/>
<line x1="318.6" y1="159.1" x2="318.6" y2="231.6" stroke="#000" stroke-width="1"/>
<line x1="315.6" y1="231.1" x2="318.6" y2="231.1" stroke="#000" stroke-width="0.9"/>
<text x="314.4" y="233.8" font-family='"Liberation Sans", sans-serif' font-size="7.5" font-weight="bold" text-anchor="end" fill="#000" stroke="#000" stroke-width="0.22" >0</text>
<line x1="315.6" y1="219.18" x2="318.6" y2="219.18" stroke="#000" stroke-width="0.9"/>
<text x="314.4" y="221.88" font-family='"Liberation Sans", sans-serif' font-size="7.5" font-weight="bold" text-anchor="end" fill="#000" stroke="#000" stroke-width="0.22" >20</text>
<line x1="315.6" y1="207.27" x2="318.6" y2="207.27" stroke="#000" stroke-width="0.9"/>
<text x="314.4" y="209.97" font-family='"Liberation Sans", sans-serif' font-size="7.5" font-weight="bold" text-anchor="end" fill="#000" stroke="#000" stroke-width="0.22" >40</text>
<line x1="315.6" y1="195.35" x2="318.6" y2="195.35" stroke="#000" stroke-width="0.9"/>
<text x="314.4" y="198.05" font-family='"Liberation Sans", sans-serif' font-size="7.5" font-weight="bold" text-anchor="end" fill="#000" stroke="#000" stroke-width="0.22" >60</text>
<line x1="315.6" y1="183.43" x2="318.6" y2="183.43" stroke="#000" stroke-width="0.9"/>
<text x="314.4" y="186.13" font-family='"Liberation Sans", sans-serif' font-size="7.5" font-weight="bold" text-anchor="end" fill="#000" stroke="#000" stroke-width="0.22" >80</text>
<line x1="315.6" y1="171.52" x2="318.6" y2="171.52" stroke="#000" stroke-width="0.9"/>
<text x="314.4" y="174.22" font-family='"Liberation Sans", sans-serif' font-size="7.5" font-weight="bold" text-anchor="end" fill="#000" stroke="#000" stroke-width="0.22" >100</text>
<line x1="315.6" y1="159.6" x2="318.6" y2="159.6" stroke="#000" stroke-width="0.9"/>
<text x="314.4" y="162.3" font-family='"Liberation Sans", sans-serif' font-size="7.5" font-weight="bold" text-anchor="end" fill="#000" stroke="#000" stroke-width="0.22" >120</text>
<line x1="318.1" y1="231.1" x2="391" y2="231.1" stroke="#000" stroke-width="1.1"/>
<text x="328.1" y="241.9" font-family='"Liberation Sans", sans-serif' font-size="7.6" font-weight="bold" text-anchor="end" fill="#000" stroke="#000" stroke-width="0.22" transform="rotate(-45 328.1 241.9)">Control</text>
<text x="339.35" y="241.9" font-family='"Liberation Sans", sans-serif' font-size="7.6" font-weight="bold" text-anchor="end" fill="#000" stroke="#000" stroke-width="0.22" transform="rotate(-45 339.35 241.9)">0.01 µM</text>
<text x="350.6" y="241.9" font-family='"Liberation Sans", sans-serif' font-size="7.6" font-weight="bold" text-anchor="end" fill="#000" stroke="#000" stroke-width="0.22" transform="rotate(-45 350.6 241.9)">0.1 µM</text>
<text x="361.85" y="241.9" font-family='"Liberation Sans", sans-serif' font-size="7.6" font-weight="bold" text-anchor="end" fill="#000" stroke="#000" stroke-width="0.22" transform="rotate(-45 361.85 241.9)">0.5 µM</text>
<text x="373.1" y="241.9" font-family='"Liberation Sans", sans-serif' font-size="7.6" font-weight="bold" text-anchor="end" fill="#000" stroke="#000" stroke-width="0.22" transform="rotate(-45 373.1 241.9)">1 µM</text>
<text x="384.35" y="241.9" font-family='"Liberation Sans", sans-serif' font-size="7.6" font-weight="bold" text-anchor="end" fill="#000" stroke="#000" stroke-width="0.22" transform="rotate(-45 384.35 241.9)">5 µM</text>
<text x="356.8" y="154.2" font-family='"Liberation Sans", sans-serif' font-size="9.2" font-weight="bold" text-anchor="middle" fill="#000" stroke="#000" stroke-width="0.22" >12 h</text>
<text x="297.5" y="194" font-family='"Liberation Sans", sans-serif' font-size="8.9" font-weight="bold" text-anchor="middle" fill="#000" stroke="#000" stroke-width="0.22" transform="rotate(-90 297.5 194)">Viable cells (% control)</text>
<line x1="466.2" y1="230.8" x2="466.2" y2="233.3" stroke="#000" stroke-width="0.8"/>
<line x1="477.5" y1="223.53" x2="477.5" y2="223.89" stroke="#000" stroke-width="0.8"/>
<line x1="475.9" y1="223.53" x2="479.1" y2="223.53" stroke="#000" stroke-width="0.8"/>
<rect x="473.65" y="223.89" width="7.7" height="6.91" fill="#000"/>
<line x1="477.5" y1="230.8" x2="477.5" y2="233.3" stroke="#000" stroke-width="0.8"/>
<line x1="488.8" y1="217.45" x2="488.8" y2="219.84" stroke="#000" stroke-width="0.8"/>
<line x1="487.2" y1="217.45" x2="490.4" y2="217.45" stroke="#000" stroke-width="0.8"/>
<rect x="484.95" y="219.84" width="7.7" height="10.96" fill="#000"/>
<line x1="488.8" y1="230.8" x2="488.8" y2="233.3" stroke="#000" stroke-width="0.8"/>
<line x1="500.1" y1="216.02" x2="500.1" y2="218.88" stroke="#000" stroke-width="0.8"/>
<line x1="498.5" y1="216.02" x2="501.7" y2="216.02" stroke="#000" stroke-width="0.8"/>
<rect x="496.25" y="218.88" width="7.7" height="11.92" fill="#000"/>
<line x1="500.1" y1="230.8" x2="500.1" y2="233.3" stroke="#000" stroke-width="0.8"/>
<line x1="511.4" y1="209.35" x2="511.4" y2="217.1" stroke="#000" stroke-width="0.8"/>
<line x1="509.8" y1="209.35" x2="513" y2="209.35" stroke="#000" stroke-width="0.8"/>
<rect x="507.55" y="217.1" width="7.7" height="13.7" fill="#000"/>
<line x1="511.4" y1="230.8" x2="511.4" y2="233.3" stroke="#000" stroke-width="0.8"/>
<line x1="522.7" y1="208.16" x2="522.7" y2="210.54" stroke="#000" stroke-width="0.8"/>
<line x1="521.1" y1="208.16" x2="524.3" y2="208.16" stroke="#000" stroke-width="0.8"/>
<rect x="518.85" y="210.54" width="7.7" height="20.26" fill="#000"/>
<line x1="522.7" y1="230.8" x2="522.7" y2="233.3" stroke="#000" stroke-width="0.8"/>
<line x1="458.6" y1="158.8" x2="458.6" y2="231.3" stroke="#000" stroke-width="1"/>
<line x1="455.6" y1="230.8" x2="458.6" y2="230.8" stroke="#000" stroke-width="0.9"/>
<text x="454.4" y="233.5" font-family='"Liberation Sans", sans-serif' font-size="7.5" font-weight="bold" text-anchor="end" fill="#000" stroke="#000" stroke-width="0.22" >0</text>
<line x1="455.6" y1="206.97" x2="458.6" y2="206.97" stroke="#000" stroke-width="0.9"/>
<text x="454.4" y="209.67" font-family='"Liberation Sans", sans-serif' font-size="7.5" font-weight="bold" text-anchor="end" fill="#000" stroke="#000" stroke-width="0.22" >20</text>
<line x1="455.6" y1="183.13" x2="458.6" y2="183.13" stroke="#000" stroke-width="0.9"/>
<text x="454.4" y="185.83" font-family='"Liberation Sans", sans-serif' font-size="7.5" font-weight="bold" text-anchor="end" fill="#000" stroke="#000" stroke-width="0.22" >40</text>
<line x1="455.6" y1="159.3" x2="458.6" y2="159.3" stroke="#000" stroke-width="0.9"/>
<text x="454.4" y="162" font-family='"Liberation Sans", sans-serif' font-size="7.5" font-weight="bold" text-anchor="end" fill="#000" stroke="#000" stroke-width="0.22" >60</text>
<line x1="458.1" y1="230.8" x2="531" y2="230.8" stroke="#000" stroke-width="1.1"/>
<text x="468.7" y="241.6" font-family='"Liberation Sans", sans-serif' font-size="7.6" font-weight="bold" text-anchor="end" fill="#000" stroke="#000" stroke-width="0.22" transform="rotate(-45 468.7 241.6)">Control</text>
<text x="480" y="241.6" font-family='"Liberation Sans", sans-serif' font-size="7.6" font-weight="bold" text-anchor="end" fill="#000" stroke="#000" stroke-width="0.22" transform="rotate(-45 480 241.6)">0.01 µM</text>
<text x="491.3" y="241.6" font-family='"Liberation Sans", sans-serif' font-size="7.6" font-weight="bold" text-anchor="end" fill="#000" stroke="#000" stroke-width="0.22" transform="rotate(-45 491.3 241.6)">0.1 µM</text>
<text x="502.6" y="241.6" font-family='"Liberation Sans", sans-serif' font-size="7.6" font-weight="bold" text-anchor="end" fill="#000" stroke="#000" stroke-width="0.22" transform="rotate(-45 502.6 241.6)">0.5 µM</text>
<text x="513.9" y="241.6" font-family='"Liberation Sans", sans-serif' font-size="7.6" font-weight="bold" text-anchor="end" fill="#000" stroke="#000" stroke-width="0.22" transform="rotate(-45 513.9 241.6)">1 µM</text>
<text x="525.2" y="241.6" font-family='"Liberation Sans", sans-serif' font-size="7.6" font-weight="bold" text-anchor="end" fill="#000" stroke="#000" stroke-width="0.22" transform="rotate(-45 525.2 241.6)">5 µM</text>
<text x="497" y="154.3" font-family='"Liberation Sans", sans-serif' font-size="9.2" font-weight="bold" text-anchor="middle" fill="#000" stroke="#000" stroke-width="0.22" >12 h</text>
<text x="441" y="193.2" font-family='"Liberation Sans", sans-serif' font-size="8.9" font-weight="bold" text-anchor="middle" fill="#000" stroke="#000" stroke-width="0.22" transform="rotate(-90 441 193.2)">Dead cells (% control)</text>
<rect x="48.3" y="299.47" width="7.2" height="58.93" fill="#fff" stroke="#333" stroke-width="0.8"/>
<line x1="51.9" y1="358.4" x2="51.9" y2="360.9" stroke="#000" stroke-width="0.8"/>
<line x1="63.2" y1="312.42" x2="63.2" y2="314.2" stroke="#333" stroke-width="0.8"/>
<line x1="61.6" y1="312.42" x2="64.8" y2="312.42" stroke="#333" stroke-width="0.8"/>
<rect x="59.6" y="314.6" width="7.2" height="43.8" fill="#fff" stroke="#333" stroke-width="0.8"/>
<text x="63.4" y="314.5" font-family='"Liberation Sans", sans-serif' font-size="5.4" font-weight="bold" text-anchor="middle" fill="#000" stroke="#000" stroke-width="0.22" letter-spacing="0.4">**</text>
<line x1="63.2" y1="358.4" x2="63.2" y2="360.9" stroke="#000" stroke-width="0.8"/>
<line x1="74.5" y1="331.11" x2="74.5" y2="334.37" stroke="#333" stroke-width="0.8"/>
<line x1="72.9" y1="331.11" x2="76.1" y2="331.11" stroke="#333" stroke-width="0.8"/>
<rect x="70.9" y="334.77" width="7.2" height="23.63" fill="#fff" stroke="#333" stroke-width="0.8"/>
<text x="74.7" y="330.3" font-family='"Liberation Sans", sans-serif' font-size="5.4" font-weight="bold" text-anchor="middle" fill="#000" stroke="#000" stroke-width="0.22" letter-spacing="0.4">***</text>
<line x1="74.5" y1="358.4" x2="74.5" y2="360.9" stroke="#000" stroke-width="0.8"/>
<line x1="85.8" y1="337.34" x2="85.8" y2="340.01" stroke="#333" stroke-width="0.8"/>
<line x1="84.2" y1="337.34" x2="87.4" y2="337.34" stroke="#333" stroke-width="0.8"/>
<rect x="82.2" y="340.41" width="7.2" height="17.99" fill="#fff" stroke="#333" stroke-width="0.8"/>
<text x="86" y="337.04" font-family='"Liberation Sans", sans-serif' font-size="5.4" font-weight="bold" text-anchor="middle" fill="#000" stroke="#000" stroke-width="0.22" letter-spacing="0.4">***</text>
<line x1="85.8" y1="358.4" x2="85.8" y2="360.9" stroke="#000" stroke-width="0.8"/>
<line x1="97.1" y1="340.78" x2="97.1" y2="343.15" stroke="#333" stroke-width="0.8"/>
<line x1="95.5" y1="340.78" x2="98.7" y2="340.78" stroke="#333" stroke-width="0.8"/>
<rect x="93.5" y="343.55" width="7.2" height="14.85" fill="#fff" stroke="#333" stroke-width="0.8"/>
<text x="97.3" y="340.48" font-family='"Liberation Sans", sans-serif' font-size="5.4" font-weight="bold" text-anchor="middle" fill="#000" stroke="#000" stroke-width="0.22" letter-spacing="0.4">***</text>
<line x1="97.1" y1="358.4" x2="97.1" y2="360.9" stroke="#000" stroke-width="0.8"/>
<line x1="108.4" y1="339.59" x2="108.4" y2="343.15" stroke="#333" stroke-width="0.8"/>
<line x1="106.8" y1="339.59" x2="110" y2="339.59" stroke="#333" stroke-width="0.8"/>
<rect x="104.8" y="343.55" width="7.2" height="14.85" fill="#fff" stroke="#333" stroke-width="0.8"/>
<text x="108.6" y="340.2" font-family='"Liberation Sans", sans-serif' font-size="5.4" font-weight="bold" text-anchor="middle" fill="#000" stroke="#000" stroke-width="0.22" letter-spacing="0.4">***</text>
<line x1="108.4" y1="358.4" x2="108.4" y2="360.9" stroke="#000" stroke-width="0.8"/>
<line x1="44.8" y1="286.7" x2="44.8" y2="358.9" stroke="#000" stroke-width="1"/>
<line x1="41.8" y1="358.4" x2="44.8" y2="358.4" stroke="#000" stroke-width="0.9"/>
<text x="40.6" y="361.1" font-family='"Liberation Sans", sans-serif' font-size="7.5" font-weight="bold" text-anchor="end" fill="#000" stroke="#000" stroke-width="0.22" >0</text>
<line x1="41.8" y1="346.53" x2="44.8" y2="346.53" stroke="#000" stroke-width="0.9"/>
<text x="40.6" y="349.23" font-family='"Liberation Sans", sans-serif' font-size="7.5" font-weight="bold" text-anchor="end" fill="#000" stroke="#000" stroke-width="0.22" >20</text>
<line x1="41.8" y1="334.67" x2="44.8" y2="334.67" stroke="#000" stroke-width="0.9"/>
<text x="40.6" y="337.37" font-family='"Liberation Sans", sans-serif' font-size="7.5" font-weight="bold" text-anchor="end" fill="#000" stroke="#000" stroke-width="0.22" >40</text>
<line x1="41.8" y1="322.8" x2="44.8" y2="322.8" stroke="#000" stroke-width="0.9"/>
<text x="40.6" y="325.5" font-family='"Liberation Sans", sans-serif' font-size="7.5" font-weight="bold" text-anchor="end" fill="#000" stroke="#000" stroke-width="0.22" >60</text>
<line x1="41.8" y1="310.93" x2="44.8" y2="310.93" stroke="#000" stroke-width="0.9"/>
<text x="40.6" y="313.63" font-family='"Liberation Sans", sans-serif' font-size="7.5" font-weight="bold" text-anchor="end" fill="#000" stroke="#000" stroke-width="0.22" >80</text>
<line x1="41.8" y1="299.07" x2="44.8" y2="299.07" stroke="#000" stroke-width="0.9"/>
<text x="40.6" y="301.77" font-family='"Liberation Sans", sans-serif' font-size="7.5" font-weight="bold" text-anchor="end" fill="#000" stroke="#000" stroke-width="0.22" >100</text>
<line x1="41.8" y1="287.2" x2="44.8" y2="287.2" stroke="#000" stroke-width="0.9"/>
<text x="40.6" y="289.9" font-family='"Liberation Sans", sans-serif' font-size="7.5" font-weight="bold" text-anchor="end" fill="#000" stroke="#000" stroke-width="0.22" >120</text>
<line x1="44.3" y1="358.4" x2="115.6" y2="358.4" stroke="#000" stroke-width="1.1"/>
<text x="54.4" y="369.2" font-family='"Liberation Sans", sans-serif' font-size="7.6" font-weight="bold" text-anchor="end" fill="#000" stroke="#000" stroke-width="0.22" transform="rotate(-45 54.4 369.2)">Control</text>
<text x="65.7" y="369.2" font-family='"Liberation Sans", sans-serif' font-size="7.6" font-weight="bold" text-anchor="end" fill="#000" stroke="#000" stroke-width="0.22" transform="rotate(-45 65.7 369.2)">0.01 µM</text>
<text x="77" y="369.2" font-family='"Liberation Sans", sans-serif' font-size="7.6" font-weight="bold" text-anchor="end" fill="#000" stroke="#000" stroke-width="0.22" transform="rotate(-45 77 369.2)">0.1 µM</text>
<text x="88.3" y="369.2" font-family='"Liberation Sans", sans-serif' font-size="7.6" font-weight="bold" text-anchor="end" fill="#000" stroke="#000" stroke-width="0.22" transform="rotate(-45 88.3 369.2)">0.5 µM</text>
<text x="99.6" y="369.2" font-family='"Liberation Sans", sans-serif' font-size="7.6" font-weight="bold" text-anchor="end" fill="#000" stroke="#000" stroke-width="0.22" transform="rotate(-45 99.6 369.2)">1 µM</text>
<text x="110.9" y="369.2" font-family='"Liberation Sans", sans-serif' font-size="7.6" font-weight="bold" text-anchor="end" fill="#000" stroke="#000" stroke-width="0.22" transform="rotate(-45 110.9 369.2)">5 µM</text>
<text x="82.8" y="282.4" font-family='"Liberation Sans", sans-serif' font-size="9.2" font-weight="bold" text-anchor="middle" fill="#000" stroke="#000" stroke-width="0.22" >24 h</text>
<text x="23" y="321" font-family='"Liberation Sans", sans-serif' font-size="8.9" font-weight="bold" text-anchor="middle" fill="#000" stroke="#000" stroke-width="0.22" transform="rotate(-90 23 321)">Viable cells (% control)</text>
<line x1="183.5" y1="361.5" x2="183.5" y2="364" stroke="#000" stroke-width="0.8"/>
<line x1="194.65" y1="350.89" x2="194.65" y2="353.13" stroke="#000" stroke-width="0.8"/>
<line x1="193.05" y1="350.89" x2="196.25" y2="350.89" stroke="#000" stroke-width="0.8"/>
<rect x="190.9" y="353.13" width="7.5" height="8.37" fill="#000"/>
<line x1="194.65" y1="361.5" x2="194.65" y2="364" stroke="#000" stroke-width="0.8"/>
<line x1="205.8" y1="352.19" x2="205.8" y2="355.37" stroke="#000" stroke-width="0.8"/>
<line x1="204.2" y1="352.19" x2="207.4" y2="352.19" stroke="#000" stroke-width="0.8"/>
<rect x="202.05" y="355.37" width="7.5" height="6.13" fill="#000"/>
<line x1="205.8" y1="361.5" x2="205.8" y2="364" stroke="#000" stroke-width="0.8"/>
<line x1="216.95" y1="347.36" x2="216.95" y2="353.84" stroke="#000" stroke-width="0.8"/>
<line x1="215.35" y1="347.36" x2="218.55" y2="347.36" stroke="#000" stroke-width="0.8"/>
<rect x="213.2" y="353.84" width="7.5" height="7.66" fill="#000"/>
<line x1="216.95" y1="361.5" x2="216.95" y2="364" stroke="#000" stroke-width="0.8"/>
<line x1="228.1" y1="342.29" x2="228.1" y2="348.77" stroke="#000" stroke-width="0.8"/>
<line x1="226.5" y1="342.29" x2="229.7" y2="342.29" stroke="#000" stroke-width="0.8"/>
<rect x="224.35" y="348.77" width="7.5" height="12.73" fill="#000"/>
<line x1="228.1" y1="361.5" x2="228.1" y2="364" stroke="#000" stroke-width="0.8"/>
<line x1="239.25" y1="335.81" x2="239.25" y2="339.7" stroke="#000" stroke-width="0.8"/>
<line x1="237.65" y1="335.81" x2="240.85" y2="335.81" stroke="#000" stroke-width="0.8"/>
<rect x="235.5" y="339.7" width="7.5" height="21.8" fill="#000"/>
<text x="239.45" y="336.01" font-family='"Liberation Sans", sans-serif' font-size="5.4" font-weight="bold" text-anchor="middle" fill="#000" stroke="#000" stroke-width="0.22" letter-spacing="0.4">*</text>
<line x1="239.25" y1="361.5" x2="239.25" y2="364" stroke="#000" stroke-width="0.8"/>
<line x1="175.8" y1="290.3" x2="175.8" y2="362" stroke="#000" stroke-width="1"/>
<line x1="172.8" y1="361.5" x2="175.8" y2="361.5" stroke="#000" stroke-width="0.9"/>
<text x="171.6" y="364.2" font-family='"Liberation Sans", sans-serif' font-size="7.5" font-weight="bold" text-anchor="end" fill="#000" stroke="#000" stroke-width="0.22" >0</text>
<line x1="172.8" y1="337.93" x2="175.8" y2="337.93" stroke="#000" stroke-width="0.9"/>
<text x="171.6" y="340.63" font-family='"Liberation Sans", sans-serif' font-size="7.5" font-weight="bold" text-anchor="end" fill="#000" stroke="#000" stroke-width="0.22" >20</text>
<line x1="172.8" y1="314.37" x2="175.8" y2="314.37" stroke="#000" stroke-width="0.9"/>
<text x="171.6" y="317.07" font-family='"Liberation Sans", sans-serif' font-size="7.5" font-weight="bold" text-anchor="end" fill="#000" stroke="#000" stroke-width="0.22" >40</text>
<line x1="172.8" y1="290.8" x2="175.8" y2="290.8" stroke="#000" stroke-width="0.9"/>
<text x="171.6" y="293.5" font-family='"Liberation Sans", sans-serif' font-size="7.5" font-weight="bold" text-anchor="end" fill="#000" stroke="#000" stroke-width="0.22" >60</text>
<line x1="175.3" y1="361.5" x2="247" y2="361.5" stroke="#000" stroke-width="1.1"/>
<text x="186" y="372.3" font-family='"Liberation Sans", sans-serif' font-size="7.6" font-weight="bold" text-anchor="end" fill="#000" stroke="#000" stroke-width="0.22" transform="rotate(-45 186 372.3)">Control</text>
<text x="197.15" y="372.3" font-family='"Liberation Sans", sans-serif' font-size="7.6" font-weight="bold" text-anchor="end" fill="#000" stroke="#000" stroke-width="0.22" transform="rotate(-45 197.15 372.3)">0.01 µM</text>
<text x="208.3" y="372.3" font-family='"Liberation Sans", sans-serif' font-size="7.6" font-weight="bold" text-anchor="end" fill="#000" stroke="#000" stroke-width="0.22" transform="rotate(-45 208.3 372.3)">0.1 µM</text>
<text x="219.45" y="372.3" font-family='"Liberation Sans", sans-serif' font-size="7.6" font-weight="bold" text-anchor="end" fill="#000" stroke="#000" stroke-width="0.22" transform="rotate(-45 219.45 372.3)">0.5 µM</text>
<text x="230.6" y="372.3" font-family='"Liberation Sans", sans-serif' font-size="7.6" font-weight="bold" text-anchor="end" fill="#000" stroke="#000" stroke-width="0.22" transform="rotate(-45 230.6 372.3)">1 µM</text>
<text x="241.75" y="372.3" font-family='"Liberation Sans", sans-serif' font-size="7.6" font-weight="bold" text-anchor="end" fill="#000" stroke="#000" stroke-width="0.22" transform="rotate(-45 241.75 372.3)">5 µM</text>
<text x="213.8" y="285.3" font-family='"Liberation Sans", sans-serif' font-size="9.2" font-weight="bold" text-anchor="middle" fill="#000" stroke="#000" stroke-width="0.22" >24 h</text>
<text x="160" y="325" font-family='"Liberation Sans", sans-serif' font-size="8.9" font-weight="bold" text-anchor="middle" fill="#000" stroke="#000" stroke-width="0.22" transform="rotate(-90 160 325)">Dead cells (% control)</text>
<rect x="321.8" y="304.37" width="7.6" height="59.43" fill="#fff" stroke="#333" stroke-width="0.8"/>
<line x1="325.6" y1="363.8" x2="325.6" y2="366.3" stroke="#000" stroke-width="0.8"/>
<line x1="336.9" y1="310.25" x2="336.9" y2="313.54" stroke="#333" stroke-width="0.8"/>
<line x1="335.3" y1="310.25" x2="338.5" y2="310.25" stroke="#333" stroke-width="0.8"/>
<rect x="333.1" y="313.94" width="7.6" height="49.86" fill="#fff" stroke="#333" stroke-width="0.8"/>
<line x1="336.9" y1="363.8" x2="336.9" y2="366.3" stroke="#000" stroke-width="0.8"/>
<line x1="348.2" y1="326.11" x2="348.2" y2="332.09" stroke="#333" stroke-width="0.8"/>
<line x1="346.6" y1="326.11" x2="349.8" y2="326.11" stroke="#333" stroke-width="0.8"/>
<rect x="344.4" y="332.49" width="7.6" height="31.31" fill="#fff" stroke="#333" stroke-width="0.8"/>
<text x="348.4" y="325.81" font-family='"Liberation Sans", sans-serif' font-size="5.4" font-weight="bold" text-anchor="middle" fill="#000" stroke="#000" stroke-width="0.22" letter-spacing="0.4">***</text>
<line x1="348.2" y1="363.8" x2="348.2" y2="366.3" stroke="#000" stroke-width="0.8"/>
<line x1="359.5" y1="338.97" x2="359.5" y2="339.27" stroke="#333" stroke-width="0.8"/>
<line x1="357.9" y1="338.97" x2="361.1" y2="338.97" stroke="#333" stroke-width="0.8"/>
<rect x="355.7" y="339.67" width="7.6" height="24.13" fill="#fff" stroke="#333" stroke-width="0.8"/>
<text x="359.7" y="337.7" font-family='"Liberation Sans", sans-serif' font-size="5.4" font-weight="bold" text-anchor="middle" fill="#000" stroke="#000" stroke-width="0.22" letter-spacing="0.4">***</text>
<line x1="359.5" y1="363.8" x2="359.5" y2="366.3" stroke="#000" stroke-width="0.8"/>
<line x1="370.8" y1="344.29" x2="370.8" y2="348.48" stroke="#333" stroke-width="0.8"/>
<line x1="369.2" y1="344.29" x2="372.4" y2="344.29" stroke="#333" stroke-width="0.8"/>
<rect x="367" y="348.88" width="7.6" height="14.92" fill="#fff" stroke="#333" stroke-width="0.8"/>
<text x="371" y="343.99" font-family='"Liberation Sans", sans-serif' font-size="5.4" font-weight="bold" text-anchor="middle" fill="#000" stroke="#000" stroke-width="0.22" letter-spacing="0.4">***</text>
<line x1="370.8" y1="363.8" x2="370.8" y2="366.3" stroke="#000" stroke-width="0.8"/>
<line x1="382.1" y1="345.25" x2="382.1" y2="349.14" stroke="#333" stroke-width="0.8"/>
<line x1="380.5" y1="345.25" x2="383.7" y2="345.25" stroke="#333" stroke-width="0.8"/>
<rect x="378.3" y="349.54" width="7.6" height="14.26" fill="#fff" stroke="#333" stroke-width="0.8"/>
<text x="382.3" y="344.95" font-family='"Liberation Sans", sans-serif' font-size="5.4" font-weight="bold" text-anchor="middle" fill="#000" stroke="#000" stroke-width="0.22" letter-spacing="0.4">***</text>
<line x1="382.1" y1="363.8" x2="382.1" y2="366.3" stroke="#000" stroke-width="0.8"/>
<line x1="318.1" y1="291.5" x2="318.1" y2="364.3" stroke="#000" stroke-width="1"/>
<line x1="315.1" y1="363.8" x2="318.1" y2="363.8" stroke="#000" stroke-width="0.9"/>
<text x="313.9" y="366.5" font-family='"Liberation Sans", sans-serif' font-size="7.5" font-weight="bold" text-anchor="end" fill="#000" stroke="#000" stroke-width="0.22" >0</text>
<line x1="315.1" y1="351.83" x2="318.1" y2="351.83" stroke="#000" stroke-width="0.9"/>
<text x="313.9" y="354.53" font-family='"Liberation Sans", sans-serif' font-size="7.5" font-weight="bold" text-anchor="end" fill="#000" stroke="#000" stroke-width="0.22" >20</text>
<line x1="315.1" y1="339.87" x2="318.1" y2="339.87" stroke="#000" stroke-width="0.9"/>
<text x="313.9" y="342.57" font-family='"Liberation Sans", sans-serif' font-size="7.5" font-weight="bold" text-anchor="end" fill="#000" stroke="#000" stroke-width="0.22" >40</text>
<line x1="315.1" y1="327.9" x2="318.1" y2="327.9" stroke="#000" stroke-width="0.9"/>
<text x="313.9" y="330.6" font-family='"Liberation Sans", sans-serif' font-size="7.5" font-weight="bold" text-anchor="end" fill="#000" stroke="#000" stroke-width="0.22" >60</text>
<line x1="315.1" y1="315.93" x2="318.1" y2="315.93" stroke="#000" stroke-width="0.9"/>
<text x="313.9" y="318.63" font-family='"Liberation Sans", sans-serif' font-size="7.5" font-weight="bold" text-anchor="end" fill="#000" stroke="#000" stroke-width="0.22" >80</text>
<line x1="315.1" y1="303.97" x2="318.1" y2="303.97" stroke="#000" stroke-width="0.9"/>
<text x="313.9" y="306.67" font-family='"Liberation Sans", sans-serif' font-size="7.5" font-weight="bold" text-anchor="end" fill="#000" stroke="#000" stroke-width="0.22" >100</text>
<line x1="315.1" y1="292" x2="318.1" y2="292" stroke="#000" stroke-width="0.9"/>
<text x="313.9" y="294.7" font-family='"Liberation Sans", sans-serif' font-size="7.5" font-weight="bold" text-anchor="end" fill="#000" stroke="#000" stroke-width="0.22" >120</text>
<line x1="317.6" y1="363.8" x2="391" y2="363.8" stroke="#000" stroke-width="1.1"/>
<text x="328.1" y="374.6" font-family='"Liberation Sans", sans-serif' font-size="7.6" font-weight="bold" text-anchor="end" fill="#000" stroke="#000" stroke-width="0.22" transform="rotate(-45 328.1 374.6)">Control</text>
<text x="339.4" y="374.6" font-family='"Liberation Sans", sans-serif' font-size="7.6" font-weight="bold" text-anchor="end" fill="#000" stroke="#000" stroke-width="0.22" transform="rotate(-45 339.4 374.6)">0.01 µM</text>
<text x="350.7" y="374.6" font-family='"Liberation Sans", sans-serif' font-size="7.6" font-weight="bold" text-anchor="end" fill="#000" stroke="#000" stroke-width="0.22" transform="rotate(-45 350.7 374.6)">0.1 µM</text>
<text x="362" y="374.6" font-family='"Liberation Sans", sans-serif' font-size="7.6" font-weight="bold" text-anchor="end" fill="#000" stroke="#000" stroke-width="0.22" transform="rotate(-45 362 374.6)">0.5 µM</text>
<text x="373.3" y="374.6" font-family='"Liberation Sans", sans-serif' font-size="7.6" font-weight="bold" text-anchor="end" fill="#000" stroke="#000" stroke-width="0.22" transform="rotate(-45 373.3 374.6)">1 µM</text>
<text x="384.6" y="374.6" font-family='"Liberation Sans", sans-serif' font-size="7.6" font-weight="bold" text-anchor="end" fill="#000" stroke="#000" stroke-width="0.22" transform="rotate(-45 384.6 374.6)">5 µM</text>
<text x="357" y="287" font-family='"Liberation Sans", sans-serif' font-size="9.2" font-weight="bold" text-anchor="middle" fill="#000" stroke="#000" stroke-width="0.22" >24 h</text>
<text x="297.5" y="325.5" font-family='"Liberation Sans", sans-serif' font-size="8.9" font-weight="bold" text-anchor="middle" fill="#000" stroke="#000" stroke-width="0.22" transform="rotate(-90 297.5 325.5)">Viable cells (% control)</text>
<line x1="464.6" y1="363.5" x2="464.6" y2="366" stroke="#000" stroke-width="0.8"/>
<line x1="475.9" y1="356.83" x2="475.9" y2="359.21" stroke="#000" stroke-width="0.8"/>
<line x1="474.3" y1="356.83" x2="477.5" y2="356.83" stroke="#000" stroke-width="0.8"/>
<rect x="472.15" y="359.21" width="7.5" height="4.29" fill="#000"/>
<line x1="475.9" y1="363.5" x2="475.9" y2="366" stroke="#000" stroke-width="0.8"/>
<line x1="487.2" y1="354.56" x2="487.2" y2="357.54" stroke="#000" stroke-width="0.8"/>
<line x1="485.6" y1="354.56" x2="488.8" y2="354.56" stroke="#000" stroke-width="0.8"/>
<rect x="483.45" y="357.54" width="7.5" height="5.96" fill="#000"/>
<line x1="487.2" y1="363.5" x2="487.2" y2="366" stroke="#000" stroke-width="0.8"/>
<line x1="498.5" y1="342.41" x2="498.5" y2="345.98" stroke="#000" stroke-width="0.8"/>
<line x1="496.9" y1="342.41" x2="500.1" y2="342.41" stroke="#000" stroke-width="0.8"/>
<rect x="494.75" y="345.98" width="7.5" height="17.52" fill="#000"/>
<line x1="498.5" y1="363.5" x2="498.5" y2="366" stroke="#000" stroke-width="0.8"/>
<line x1="509.8" y1="327.75" x2="509.8" y2="340.86" stroke="#000" stroke-width="0.8"/>
<line x1="508.2" y1="327.75" x2="511.4" y2="327.75" stroke="#000" stroke-width="0.8"/>
<rect x="506.05" y="340.86" width="7.5" height="22.64" fill="#000"/>
<line x1="509.8" y1="363.5" x2="509.8" y2="366" stroke="#000" stroke-width="0.8"/>
<line x1="521.1" y1="335.14" x2="521.1" y2="341.81" stroke="#000" stroke-width="0.8"/>
<line x1="519.5" y1="335.14" x2="522.7" y2="335.14" stroke="#000" stroke-width="0.8"/>
<rect x="517.35" y="341.81" width="7.5" height="21.69" fill="#000"/>
<line x1="521.1" y1="363.5" x2="521.1" y2="366" stroke="#000" stroke-width="0.8"/>
<line x1="456.6" y1="291.5" x2="456.6" y2="364" stroke="#000" stroke-width="1"/>
<line x1="453.6" y1="363.5" x2="456.6" y2="363.5" stroke="#000" stroke-width="0.9"/>
<text x="452.4" y="366.2" font-family='"Liberation Sans", sans-serif' font-size="7.5" font-weight="bold" text-anchor="end" fill="#000" stroke="#000" stroke-width="0.22" >0</text>
<line x1="453.6" y1="339.67" x2="456.6" y2="339.67" stroke="#000" stroke-width="0.9"/>
<text x="452.4" y="342.37" font-family='"Liberation Sans", sans-serif' font-size="7.5" font-weight="bold" text-anchor="end" fill="#000" stroke="#000" stroke-width="0.22" >20</text>
<line x1="453.6" y1="315.83" x2="456.6" y2="315.83" stroke="#000" stroke-width="0.9"/>
<text x="452.4" y="318.53" font-family='"Liberation Sans", sans-serif' font-size="7.5" font-weight="bold" text-anchor="end" fill="#000" stroke="#000" stroke-width="0.22" >40</text>
<line x1="453.6" y1="292" x2="456.6" y2="292" stroke="#000" stroke-width="0.9"/>
<text x="452.4" y="294.7" font-family='"Liberation Sans", sans-serif' font-size="7.5" font-weight="bold" text-anchor="end" fill="#000" stroke="#000" stroke-width="0.22" >60</text>
<line x1="456.1" y1="363.5" x2="530" y2="363.5" stroke="#000" stroke-width="1.1"/>
<text x="467.1" y="374.3" font-family='"Liberation Sans", sans-serif' font-size="7.6" font-weight="bold" text-anchor="end" fill="#000" stroke="#000" stroke-width="0.22" transform="rotate(-45 467.1 374.3)">Control</text>
<text x="478.4" y="374.3" font-family='"Liberation Sans", sans-serif' font-size="7.6" font-weight="bold" text-anchor="end" fill="#000" stroke="#000" stroke-width="0.22" transform="rotate(-45 478.4 374.3)">0.01 µM</text>
<text x="489.7" y="374.3" font-family='"Liberation Sans", sans-serif' font-size="7.6" font-weight="bold" text-anchor="end" fill="#000" stroke="#000" stroke-width="0.22" transform="rotate(-45 489.7 374.3)">0.1 µM</text>
<text x="501" y="374.3" font-family='"Liberation Sans", sans-serif' font-size="7.6" font-weight="bold" text-anchor="end" fill="#000" stroke="#000" stroke-width="0.22" transform="rotate(-45 501 374.3)">0.5 µM</text>
<text x="512.3" y="374.3" font-family='"Liberation Sans", sans-serif' font-size="7.6" font-weight="bold" text-anchor="end" fill="#000" stroke="#000" stroke-width="0.22" transform="rotate(-45 512.3 374.3)">1 µM</text>
<text x="523.6" y="374.3" font-family='"Liberation Sans", sans-serif' font-size="7.6" font-weight="bold" text-anchor="end" fill="#000" stroke="#000" stroke-width="0.22" transform="rotate(-45 523.6 374.3)">5 µM</text>
<text x="496" y="287" font-family='"Liberation Sans", sans-serif' font-size="9.2" font-weight="bold" text-anchor="middle" fill="#000" stroke="#000" stroke-width="0.22" >24 h</text>
<text x="440" y="324" font-family='"Liberation Sans", sans-serif' font-size="8.9" font-weight="bold" text-anchor="middle" fill="#000" stroke="#000" stroke-width="0.22" transform="rotate(-90 440 324)">Dead cells (% control)</text>
<rect x="48.3" y="433.73" width="7.2" height="59.27" fill="#fff" stroke="#333" stroke-width="0.8"/>
<line x1="51.9" y1="493" x2="51.9" y2="495.5" stroke="#000" stroke-width="0.8"/>
<line x1="63.2" y1="439.3" x2="63.2" y2="441.09" stroke="#333" stroke-width="0.8"/>
<line x1="61.6" y1="439.3" x2="64.8" y2="439.3" stroke="#333" stroke-width="0.8"/>
<rect x="59.6" y="441.49" width="7.2" height="51.51" fill="#fff" stroke="#333" stroke-width="0.8"/>
<line x1="63.2" y1="493" x2="63.2" y2="495.5" stroke="#000" stroke-width="0.8"/>
<line x1="74.5" y1="455.71" x2="74.5" y2="458.69" stroke="#333" stroke-width="0.8"/>
<line x1="72.9" y1="455.71" x2="76.1" y2="455.71" stroke="#333" stroke-width="0.8"/>
<rect x="70.9" y="459.09" width="7.2" height="33.91" fill="#fff" stroke="#333" stroke-width="0.8"/>
<text x="74.7" y="455.41" font-family='"Liberation Sans", sans-serif' font-size="5.4" font-weight="bold" text-anchor="middle" fill="#000" stroke="#000" stroke-width="0.22" letter-spacing="0.4">***</text>
<line x1="74.5" y1="493" x2="74.5" y2="495.5" stroke="#000" stroke-width="0.8"/>
<line x1="85.8" y1="469.73" x2="85.8" y2="474.2" stroke="#333" stroke-width="0.8"/>
<line x1="84.2" y1="469.73" x2="87.4" y2="469.73" stroke="#333" stroke-width="0.8"/>
<rect x="82.2" y="474.6" width="7.2" height="18.4" fill="#fff" stroke="#333" stroke-width="0.8"/>
<text x="86" y="469.43" font-family='"Liberation Sans", sans-serif' font-size="5.4" font-weight="bold" text-anchor="middle" fill="#000" stroke="#000" stroke-width="0.22" letter-spacing="0.4">***</text>
<line x1="85.8" y1="493" x2="85.8" y2="495.5" stroke="#000" stroke-width="0.8"/>
<line x1="97.1" y1="476" x2="97.1" y2="479.99" stroke="#333" stroke-width="0.8"/>
<line x1="95.5" y1="476" x2="98.7" y2="476" stroke="#333" stroke-width="0.8"/>
<rect x="93.5" y="480.39" width="7.2" height="12.61" fill="#fff" stroke="#333" stroke-width="0.8"/>
<text x="97.3" y="475.69" font-family='"Liberation Sans", sans-serif' font-size="5.4" font-weight="bold" text-anchor="middle" fill="#000" stroke="#000" stroke-width="0.22" letter-spacing="0.4">***</text>
<line x1="97.1" y1="493" x2="97.1" y2="495.5" stroke="#000" stroke-width="0.8"/>
<line x1="108.4" y1="484.05" x2="108.4" y2="485.84" stroke="#333" stroke-width="0.8"/>
<line x1="106.8" y1="484.05" x2="110" y2="484.05" stroke="#333" stroke-width="0.8"/>
<rect x="104.8" y="486.24" width="7.2" height="6.76" fill="#fff" stroke="#333" stroke-width="0.8"/>
<text x="108.6" y="483.75" font-family='"Liberation Sans", sans-serif' font-size="5.4" font-weight="bold" text-anchor="middle" fill="#000" stroke="#000" stroke-width="0.22" letter-spacing="0.4">***</text>
<line x1="108.4" y1="493" x2="108.4" y2="495.5" stroke="#000" stroke-width="0.8"/>
<line x1="44.7" y1="420.9" x2="44.7" y2="493.5" stroke="#000" stroke-width="1"/>
<line x1="41.7" y1="493" x2="44.7" y2="493" stroke="#000" stroke-width="0.9"/>
<text x="40.5" y="495.7" font-family='"Liberation Sans", sans-serif' font-size="7.5" font-weight="bold" text-anchor="end" fill="#000" stroke="#000" stroke-width="0.22" >0</text>
<line x1="41.7" y1="481.07" x2="44.7" y2="481.07" stroke="#000" stroke-width="0.9"/>
<text x="40.5" y="483.77" font-family='"Liberation Sans", sans-serif' font-size="7.5" font-weight="bold" text-anchor="end" fill="#000" stroke="#000" stroke-width="0.22" >20</text>
<line x1="41.7" y1="469.13" x2="44.7" y2="469.13" stroke="#000" stroke-width="0.9"/>
<text x="40.5" y="471.83" font-family='"Liberation Sans", sans-serif' font-size="7.5" font-weight="bold" text-anchor="end" fill="#000" stroke="#000" stroke-width="0.22" >40</text>
<line x1="41.7" y1="457.2" x2="44.7" y2="457.2" stroke="#000" stroke-width="0.9"/>
<text x="40.5" y="459.9" font-family='"Liberation Sans", sans-serif' font-size="7.5" font-weight="bold" text-anchor="end" fill="#000" stroke="#000" stroke-width="0.22" >60</text>
<line x1="41.7" y1="445.27" x2="44.7" y2="445.27" stroke="#000" stroke-width="0.9"/>
<text x="40.5" y="447.97" font-family='"Liberation Sans", sans-serif' font-size="7.5" font-weight="bold" text-anchor="end" fill="#000" stroke="#000" stroke-width="0.22" >80</text>
<line x1="41.7" y1="433.33" x2="44.7" y2="433.33" stroke="#000" stroke-width="0.9"/>
<text x="40.5" y="436.03" font-family='"Liberation Sans", sans-serif' font-size="7.5" font-weight="bold" text-anchor="end" fill="#000" stroke="#000" stroke-width="0.22" >100</text>
<line x1="41.7" y1="421.4" x2="44.7" y2="421.4" stroke="#000" stroke-width="0.9"/>
<text x="40.5" y="424.1" font-family='"Liberation Sans", sans-serif' font-size="7.5" font-weight="bold" text-anchor="end" fill="#000" stroke="#000" stroke-width="0.22" >120</text>
<line x1="44.2" y1="493" x2="115.6" y2="493" stroke="#000" stroke-width="1.1"/>
<text x="54.4" y="503.8" font-family='"Liberation Sans", sans-serif' font-size="7.6" font-weight="bold" text-anchor="end" fill="#000" stroke="#000" stroke-width="0.22" transform="rotate(-45 54.4 503.8)">Control</text>
<text x="65.7" y="503.8" font-family='"Liberation Sans", sans-serif' font-size="7.6" font-weight="bold" text-anchor="end" fill="#000" stroke="#000" stroke-width="0.22" transform="rotate(-45 65.7 503.8)">0.01 µM</text>
<text x="77" y="503.8" font-family='"Liberation Sans", sans-serif' font-size="7.6" font-weight="bold" text-anchor="end" fill="#000" stroke="#000" stroke-width="0.22" transform="rotate(-45 77 503.8)">0.1 µM</text>
<text x="88.3" y="503.8" font-family='"Liberation Sans", sans-serif' font-size="7.6" font-weight="bold" text-anchor="end" fill="#000" stroke="#000" stroke-width="0.22" transform="rotate(-45 88.3 503.8)">0.5 µM</text>
<text x="99.6" y="503.8" font-family='"Liberation Sans", sans-serif' font-size="7.6" font-weight="bold" text-anchor="end" fill="#000" stroke="#000" stroke-width="0.22" transform="rotate(-45 99.6 503.8)">1 µM</text>
<text x="110.9" y="503.8" font-family='"Liberation Sans", sans-serif' font-size="7.6" font-weight="bold" text-anchor="end" fill="#000" stroke="#000" stroke-width="0.22" transform="rotate(-45 110.9 503.8)">5 µM</text>
<text x="82.8" y="416.2" font-family='"Liberation Sans", sans-serif' font-size="9.2" font-weight="bold" text-anchor="middle" fill="#000" stroke="#000" stroke-width="0.22" >48 h</text>
<text x="23" y="455.5" font-family='"Liberation Sans", sans-serif' font-size="8.9" font-weight="bold" text-anchor="middle" fill="#000" stroke="#000" stroke-width="0.22" transform="rotate(-90 23 455.5)">Viable cells (% control)</text>
<line x1="180.9" y1="497.7" x2="180.9" y2="500.2" stroke="#000" stroke-width="0.8"/>
<line x1="192.2" y1="490.56" x2="192.2" y2="491.75" stroke="#000" stroke-width="0.8"/>
<line x1="190.6" y1="490.56" x2="193.8" y2="490.56" stroke="#000" stroke-width="0.8"/>
<rect x="188.45" y="491.75" width="7.5" height="5.95" fill="#000"/>
<line x1="192.2" y1="497.7" x2="192.2" y2="500.2" stroke="#000" stroke-width="0.8"/>
<line x1="203.5" y1="481.04" x2="203.5" y2="486.04" stroke="#000" stroke-width="0.8"/>
<line x1="201.9" y1="481.04" x2="205.1" y2="481.04" stroke="#000" stroke-width="0.8"/>
<rect x="199.75" y="486.04" width="7.5" height="11.66" fill="#000"/>
<line x1="203.5" y1="497.7" x2="203.5" y2="500.2" stroke="#000" stroke-width="0.8"/>
<line x1="214.8" y1="476.52" x2="214.8" y2="481.52" stroke="#000" stroke-width="0.8"/>
<line x1="213.2" y1="476.52" x2="216.4" y2="476.52" stroke="#000" stroke-width="0.8"/>
<rect x="211.05" y="481.52" width="7.5" height="16.18" fill="#000"/>
<line x1="214.8" y1="497.7" x2="214.8" y2="500.2" stroke="#000" stroke-width="0.8"/>
<line x1="226.1" y1="464.38" x2="226.1" y2="471.76" stroke="#000" stroke-width="0.8"/>
<line x1="224.5" y1="464.38" x2="227.7" y2="464.38" stroke="#000" stroke-width="0.8"/>
<rect x="222.35" y="471.76" width="7.5" height="25.94" fill="#000"/>
<text x="226.3" y="464.58" font-family='"Liberation Sans", sans-serif' font-size="5.4" font-weight="bold" text-anchor="middle" fill="#000" stroke="#000" stroke-width="0.22" letter-spacing="0.4">**</text>
<line x1="226.1" y1="497.7" x2="226.1" y2="500.2" stroke="#000" stroke-width="0.8"/>
<line x1="237.4" y1="456.76" x2="237.4" y2="461.4" stroke="#000" stroke-width="0.8"/>
<line x1="235.8" y1="456.76" x2="239" y2="456.76" stroke="#000" stroke-width="0.8"/>
<rect x="233.65" y="461.4" width="7.5" height="36.3" fill="#000"/>
<text x="237.6" y="456.96" font-family='"Liberation Sans", sans-serif' font-size="5.4" font-weight="bold" text-anchor="middle" fill="#000" stroke="#000" stroke-width="0.22" letter-spacing="0.4">***</text>
<line x1="237.4" y1="497.7" x2="237.4" y2="500.2" stroke="#000" stroke-width="0.8"/>
<line x1="173.6" y1="425.8" x2="173.6" y2="498.2" stroke="#000" stroke-width="1"/>
<line x1="170.6" y1="497.7" x2="173.6" y2="497.7" stroke="#000" stroke-width="0.9"/>
<text x="169.4" y="500.4" font-family='"Liberation Sans", sans-serif' font-size="7.5" font-weight="bold" text-anchor="end" fill="#000" stroke="#000" stroke-width="0.22" >0</text>
<line x1="170.6" y1="473.9" x2="173.6" y2="473.9" stroke="#000" stroke-width="0.9"/>
<text x="169.4" y="476.6" font-family='"Liberation Sans", sans-serif' font-size="7.5" font-weight="bold" text-anchor="end" fill="#000" stroke="#000" stroke-width="0.22" >20</text>
<line x1="170.6" y1="450.1" x2="173.6" y2="450.1" stroke="#000" stroke-width="0.9"/>
<text x="169.4" y="452.8" font-family='"Liberation Sans", sans-serif' font-size="7.5" font-weight="bold" text-anchor="end" fill="#000" stroke="#000" stroke-width="0.22" >40</text>
<line x1="170.6" y1="426.3" x2="173.6" y2="426.3" stroke="#000" stroke-width="0.9"/>
<text x="169.4" y="429" font-family='"Liberation Sans", sans-serif' font-size="7.5" font-weight="bold" text-anchor="end" fill="#000" stroke="#000" stroke-width="0.22" >60</text>
<line x1="173.1" y1="497.7" x2="246" y2="497.7" stroke="#000" stroke-width="1.1"/>
<text x="183.4" y="508.5" font-family='"Liberation Sans", sans-serif' font-size="7.6" font-weight="bold" text-anchor="end" fill="#000" stroke="#000" stroke-width="0.22" transform="rotate(-45 183.4 508.5)">Control</text>
<text x="194.7" y="508.5" font-family='"Liberation Sans", sans-serif' font-size="7.6" font-weight="bold" text-anchor="end" fill="#000" stroke="#000" stroke-width="0.22" transform="rotate(-45 194.7 508.5)">0.01 µM</text>
<text x="206" y="508.5" font-family='"Liberation Sans", sans-serif' font-size="7.6" font-weight="bold" text-anchor="end" fill="#000" stroke="#000" stroke-width="0.22" transform="rotate(-45 206 508.5)">0.1 µM</text>
<text x="217.3" y="508.5" font-family='"Liberation Sans", sans-serif' font-size="7.6" font-weight="bold" text-anchor="end" fill="#000" stroke="#000" stroke-width="0.22" transform="rotate(-45 217.3 508.5)">0.5 µM</text>
<text x="228.6" y="508.5" font-family='"Liberation Sans", sans-serif' font-size="7.6" font-weight="bold" text-anchor="end" fill="#000" stroke="#000" stroke-width="0.22" transform="rotate(-45 228.6 508.5)">1 µM</text>
<text x="239.9" y="508.5" font-family='"Liberation Sans", sans-serif' font-size="7.6" font-weight="bold" text-anchor="end" fill="#000" stroke="#000" stroke-width="0.22" transform="rotate(-45 239.9 508.5)">5 µM</text>
<text x="212.3" y="421" font-family='"Liberation Sans", sans-serif' font-size="9.2" font-weight="bold" text-anchor="middle" fill="#000" stroke="#000" stroke-width="0.22" >48 h</text>
<text x="157.5" y="461" font-family='"Liberation Sans", sans-serif' font-size="8.9" font-weight="bold" text-anchor="middle" fill="#000" stroke="#000" stroke-width="0.22" transform="rotate(-90 157.5 461)">Dead cells (% control)</text>
<rect x="321.8" y="436.92" width="7.6" height="59.18" fill="#fff" stroke="#333" stroke-width="0.8"/>
<line x1="325.6" y1="496.1" x2="325.6" y2="498.6" stroke="#000" stroke-width="0.8"/>
<line x1="336.85" y1="443.37" x2="336.85" y2="447.24" stroke="#333" stroke-width="0.8"/>
<line x1="335.25" y1="443.37" x2="338.45" y2="443.37" stroke="#333" stroke-width="0.8"/>
<rect x="333.05" y="447.64" width="7.6" height="48.46" fill="#fff" stroke="#333" stroke-width="0.8"/>
<line x1="336.85" y1="496.1" x2="336.85" y2="498.6" stroke="#000" stroke-width="0.8"/>
<line x1="348.1" y1="457.67" x2="348.1" y2="464.22" stroke="#333" stroke-width="0.8"/>
<line x1="346.5" y1="457.67" x2="349.7" y2="457.67" stroke="#333" stroke-width="0.8"/>
<rect x="344.3" y="464.62" width="7.6" height="31.48" fill="#fff" stroke="#333" stroke-width="0.8"/>
<text x="348.3" y="457.37" font-family='"Liberation Sans", sans-serif' font-size="5.4" font-weight="bold" text-anchor="middle" fill="#000" stroke="#000" stroke-width="0.22" letter-spacing="0.4">***</text>
<line x1="348.1" y1="496.1" x2="348.1" y2="498.6" stroke="#000" stroke-width="0.8"/>
<line x1="359.35" y1="475.96" x2="359.35" y2="479.83" stroke="#333" stroke-width="0.8"/>
<line x1="357.75" y1="475.96" x2="360.95" y2="475.96" stroke="#333" stroke-width="0.8"/>
<rect x="355.55" y="480.23" width="7.6" height="15.87" fill="#fff" stroke="#333" stroke-width="0.8"/>
<text x="359.55" y="475.66" font-family='"Liberation Sans", sans-serif' font-size="5.4" font-weight="bold" text-anchor="middle" fill="#000" stroke="#000" stroke-width="0.22" letter-spacing="0.4">***</text>
<line x1="359.35" y1="496.1" x2="359.35" y2="498.6" stroke="#000" stroke-width="0.8"/>
<line x1="370.6" y1="487.28" x2="370.6" y2="487.88" stroke="#333" stroke-width="0.8"/>
<line x1="369" y1="487.28" x2="372.2" y2="487.28" stroke="#333" stroke-width="0.8"/>
<rect x="366.8" y="488.28" width="7.6" height="7.82" fill="#fff" stroke="#333" stroke-width="0.8"/>
<text x="370.8" y="486.3" font-family='"Liberation Sans", sans-serif' font-size="5.4" font-weight="bold" text-anchor="middle" fill="#000" stroke="#000" stroke-width="0.22" letter-spacing="0.4">***</text>
<line x1="370.6" y1="496.1" x2="370.6" y2="498.6" stroke="#000" stroke-width="0.8"/>
<line x1="381.85" y1="488.06" x2="381.85" y2="489.84" stroke="#333" stroke-width="0.8"/>
<line x1="380.25" y1="488.06" x2="383.45" y2="488.06" stroke="#333" stroke-width="0.8"/>
<rect x="378.05" y="490.24" width="7.6" height="5.86" fill="#fff" stroke="#333" stroke-width="0.8"/>
<text x="382.05" y="487.76" font-family='"Liberation Sans", sans-serif' font-size="5.4" font-weight="bold" text-anchor="middle" fill="#000" stroke="#000" stroke-width="0.22" letter-spacing="0.4">***</text>
<line x1="381.85" y1="496.1" x2="381.85" y2="498.6" stroke="#000" stroke-width="0.8"/>
<line x1="318.6" y1="424.1" x2="318.6" y2="496.6" stroke="#000" stroke-width="1"/>
<line x1="315.6" y1="496.1" x2="318.6" y2="496.1" stroke="#000" stroke-width="0.9"/>
<text x="314.4" y="498.8" font-family='"Liberation Sans", sans-serif' font-size="7.5" font-weight="bold" text-anchor="end" fill="#000" stroke="#000" stroke-width="0.22" >0</text>
<line x1="315.6" y1="484.18" x2="318.6" y2="484.18" stroke="#000" stroke-width="0.9"/>
<text x="314.4" y="486.88" font-family='"Liberation Sans", sans-serif' font-size="7.5" font-weight="bold" text-anchor="end" fill="#000" stroke="#000" stroke-width="0.22" >20</text>
<line x1="315.6" y1="472.27" x2="318.6" y2="472.27" stroke="#000" stroke-width="0.9"/>
<text x="314.4" y="474.97" font-family='"Liberation Sans", sans-serif' font-size="7.5" font-weight="bold" text-anchor="end" fill="#000" stroke="#000" stroke-width="0.22" >40</text>
<line x1="315.6" y1="460.35" x2="318.6" y2="460.35" stroke="#000" stroke-width="0.9"/>
<text x="314.4" y="463.05" font-family='"Liberation Sans", sans-serif' font-size="7.5" font-weight="bold" text-anchor="end" fill="#000" stroke="#000" stroke-width="0.22" >60</text>
<line x1="315.6" y1="448.43" x2="318.6" y2="448.43" stroke="#000" stroke-width="0.9"/>
<text x="314.4" y="451.13" font-family='"Liberation Sans", sans-serif' font-size="7.5" font-weight="bold" text-anchor="end" fill="#000" stroke="#000" stroke-width="0.22" >80</text>
<line x1="315.6" y1="436.52" x2="318.6" y2="436.52" stroke="#000" stroke-width="0.9"/>
<text x="314.4" y="439.22" font-family='"Liberation Sans", sans-serif' font-size="7.5" font-weight="bold" text-anchor="end" fill="#000" stroke="#000" stroke-width="0.22" >100</text>
<line x1="315.6" y1="424.6" x2="318.6" y2="424.6" stroke="#000" stroke-width="0.9"/>
<text x="314.4" y="427.3" font-family='"Liberation Sans", sans-serif' font-size="7.5" font-weight="bold" text-anchor="end" fill="#000" stroke="#000" stroke-width="0.22" >120</text>
<line x1="318.1" y1="496.1" x2="391" y2="496.1" stroke="#000" stroke-width="1.1"/>
<text x="328.1" y="506.9" font-family='"Liberation Sans", sans-serif' font-size="7.6" font-weight="bold" text-anchor="end" fill="#000" stroke="#000" stroke-width="0.22" transform="rotate(-45 328.1 506.9)">Control</text>
<text x="339.35" y="506.9" font-family='"Liberation Sans", sans-serif' font-size="7.6" font-weight="bold" text-anchor="end" fill="#000" stroke="#000" stroke-width="0.22" transform="rotate(-45 339.35 506.9)">0.01 µM</text>
<text x="350.6" y="506.9" font-family='"Liberation Sans", sans-serif' font-size="7.6" font-weight="bold" text-anchor="end" fill="#000" stroke="#000" stroke-width="0.22" transform="rotate(-45 350.6 506.9)">0.1 µM</text>
<text x="361.85" y="506.9" font-family='"Liberation Sans", sans-serif' font-size="7.6" font-weight="bold" text-anchor="end" fill="#000" stroke="#000" stroke-width="0.22" transform="rotate(-45 361.85 506.9)">0.5 µM</text>
<text x="373.1" y="506.9" font-family='"Liberation Sans", sans-serif' font-size="7.6" font-weight="bold" text-anchor="end" fill="#000" stroke="#000" stroke-width="0.22" transform="rotate(-45 373.1 506.9)">1 µM</text>
<text x="384.35" y="506.9" font-family='"Liberation Sans", sans-serif' font-size="7.6" font-weight="bold" text-anchor="end" fill="#000" stroke="#000" stroke-width="0.22" transform="rotate(-45 384.35 506.9)">5 µM</text>
<text x="357" y="418.7" font-family='"Liberation Sans", sans-serif' font-size="9.2" font-weight="bold" text-anchor="middle" fill="#000" stroke="#000" stroke-width="0.22" >48 h</text>
<text x="297.5" y="458.5" font-family='"Liberation Sans", sans-serif' font-size="8.9" font-weight="bold" text-anchor="middle" fill="#000" stroke="#000" stroke-width="0.22" transform="rotate(-90 297.5 458.5)">Viable cells (% control)</text>
<line x1="468.5" y1="496.1" x2="468.5" y2="498.6" stroke="#000" stroke-width="0.8"/>
<line x1="479.8" y1="490.14" x2="479.8" y2="490.74" stroke="#000" stroke-width="0.8"/>
<line x1="478.2" y1="490.14" x2="481.4" y2="490.14" stroke="#000" stroke-width="0.8"/>
<rect x="476.05" y="490.74" width="7.5" height="5.36" fill="#000"/>
<line x1="479.8" y1="496.1" x2="479.8" y2="498.6" stroke="#000" stroke-width="0.8"/>
<line x1="491.1" y1="479.06" x2="491.1" y2="485.14" stroke="#000" stroke-width="0.8"/>
<line x1="489.5" y1="479.06" x2="492.7" y2="479.06" stroke="#000" stroke-width="0.8"/>
<rect x="487.35" y="485.14" width="7.5" height="10.96" fill="#000"/>
<line x1="491.1" y1="496.1" x2="491.1" y2="498.6" stroke="#000" stroke-width="0.8"/>
<line x1="502.4" y1="464.16" x2="502.4" y2="474.89" stroke="#000" stroke-width="0.8"/>
<line x1="500.8" y1="464.16" x2="504" y2="464.16" stroke="#000" stroke-width="0.8"/>
<rect x="498.65" y="474.89" width="7.5" height="21.21" fill="#000"/>
<line x1="502.4" y1="496.1" x2="502.4" y2="498.6" stroke="#000" stroke-width="0.8"/>
<line x1="513.7" y1="472.27" x2="513.7" y2="484.18" stroke="#000" stroke-width="0.8"/>
<line x1="512.1" y1="472.27" x2="515.3" y2="472.27" stroke="#000" stroke-width="0.8"/>
<rect x="509.95" y="484.18" width="7.5" height="11.92" fill="#000"/>
<line x1="513.7" y1="496.1" x2="513.7" y2="498.6" stroke="#000" stroke-width="0.8"/>
<line x1="525" y1="453.2" x2="525" y2="460.95" stroke="#000" stroke-width="0.8"/>
<line x1="523.4" y1="453.2" x2="526.6" y2="453.2" stroke="#000" stroke-width="0.8"/>
<rect x="521.25" y="460.95" width="7.5" height="35.15" fill="#000"/>
<text x="525.2" y="453.4" font-family='"Liberation Sans", sans-serif' font-size="5.4" font-weight="bold" text-anchor="middle" fill="#000" stroke="#000" stroke-width="0.22" letter-spacing="0.4">*</text>
<line x1="525" y1="496.1" x2="525" y2="498.6" stroke="#000" stroke-width="0.8"/>
<line x1="460.8" y1="424.1" x2="460.8" y2="496.6" stroke="#000" stroke-width="1"/>
<line x1="457.8" y1="496.1" x2="460.8" y2="496.1" stroke="#000" stroke-width="0.9"/>
<text x="456.6" y="498.8" font-family='"Liberation Sans", sans-serif' font-size="7.5" font-weight="bold" text-anchor="end" fill="#000" stroke="#000" stroke-width="0.22" >0</text>
<line x1="457.8" y1="472.27" x2="460.8" y2="472.27" stroke="#000" stroke-width="0.9"/>
<text x="456.6" y="474.97" font-family='"Liberation Sans", sans-serif' font-size="7.5" font-weight="bold" text-anchor="end" fill="#000" stroke="#000" stroke-width="0.22" >20</text>
<line x1="457.8" y1="448.43" x2="460.8" y2="448.43" stroke="#000" stroke-width="0.9"/>
<text x="456.6" y="451.13" font-family='"Liberation Sans", sans-serif' font-size="7.5" font-weight="bold" text-anchor="end" fill="#000" stroke="#000" stroke-width="0.22" >40</text>
<line x1="457.8" y1="424.6" x2="460.8" y2="424.6" stroke="#000" stroke-width="0.9"/>
<text x="456.6" y="427.3" font-family='"Liberation Sans", sans-serif' font-size="7.5" font-weight="bold" text-anchor="end" fill="#000" stroke="#000" stroke-width="0.22" >60</text>
<line x1="460.3" y1="496.1" x2="534" y2="496.1" stroke="#000" stroke-width="1.1"/>
<text x="471" y="506.9" font-family='"Liberation Sans", sans-serif' font-size="7.6" font-weight="bold" text-anchor="end" fill="#000" stroke="#000" stroke-width="0.22" transform="rotate(-45 471 506.9)">Control</text>
<text x="482.3" y="506.9" font-family='"Liberation Sans", sans-serif' font-size="7.6" font-weight="bold" text-anchor="end" fill="#000" stroke="#000" stroke-width="0.22" transform="rotate(-45 482.3 506.9)">0.01 µM</text>
<text x="493.6" y="506.9" font-family='"Liberation Sans", sans-serif' font-size="7.6" font-weight="bold" text-anchor="end" fill="#000" stroke="#000" stroke-width="0.22" transform="rotate(-45 493.6 506.9)">0.1 µM</text>
<text x="504.9" y="506.9" font-family='"Liberation Sans", sans-serif' font-size="7.6" font-weight="bold" text-anchor="end" fill="#000" stroke="#000" stroke-width="0.22" transform="rotate(-45 504.9 506.9)">0.5 µM</text>
<text x="516.2" y="506.9" font-family='"Liberation Sans", sans-serif' font-size="7.6" font-weight="bold" text-anchor="end" fill="#000" stroke="#000" stroke-width="0.22" transform="rotate(-45 516.2 506.9)">1 µM</text>
<text x="527.5" y="506.9" font-family='"Liberation Sans", sans-serif' font-size="7.6" font-weight="bold" text-anchor="end" fill="#000" stroke="#000" stroke-width="0.22" transform="rotate(-45 527.5 506.9)">5 µM</text>
<text x="499.5" y="418.7" font-family='"Liberation Sans", sans-serif' font-size="9.2" font-weight="bold" text-anchor="middle" fill="#000" stroke="#000" stroke-width="0.22" >48 h</text>
<text x="443" y="458" font-family='"Liberation Sans", sans-serif' font-size="8.9" font-weight="bold" text-anchor="middle" fill="#000" stroke="#000" stroke-width="0.22" transform="rotate(-90 443 458)">Dead cells (% control)</text>
<rect x="48.3" y="568.65" width="7.2" height="58.85" fill="#fff" stroke="#333" stroke-width="0.8"/>
<line x1="51.9" y1="627.5" x2="51.9" y2="630" stroke="#000" stroke-width="0.8"/>
<line x1="63.2" y1="572.4" x2="63.2" y2="576.25" stroke="#333" stroke-width="0.8"/>
<line x1="61.6" y1="572.4" x2="64.8" y2="572.4" stroke="#333" stroke-width="0.8"/>
<rect x="59.6" y="576.65" width="7.2" height="50.85" fill="#fff" stroke="#333" stroke-width="0.8"/>
<line x1="63.2" y1="627.5" x2="63.2" y2="630" stroke="#000" stroke-width="0.8"/>
<line x1="74.5" y1="592.25" x2="74.5" y2="597.28" stroke="#333" stroke-width="0.8"/>
<line x1="72.9" y1="592.25" x2="76.1" y2="592.25" stroke="#333" stroke-width="0.8"/>
<rect x="70.9" y="597.68" width="7.2" height="29.82" fill="#fff" stroke="#333" stroke-width="0.8"/>
<text x="74.7" y="591.95" font-family='"Liberation Sans", sans-serif' font-size="5.4" font-weight="bold" text-anchor="middle" fill="#000" stroke="#000" stroke-width="0.22" letter-spacing="0.4">***</text>
<line x1="74.5" y1="627.5" x2="74.5" y2="630" stroke="#000" stroke-width="0.8"/>
<line x1="85.8" y1="618.32" x2="85.8" y2="620.98" stroke="#333" stroke-width="0.8"/>
<line x1="84.2" y1="618.32" x2="87.4" y2="618.32" stroke="#333" stroke-width="0.8"/>
<rect x="82.2" y="621.38" width="7.2" height="6.12" fill="#fff" stroke="#333" stroke-width="0.8"/>
<text x="86" y="618.02" font-family='"Liberation Sans", sans-serif' font-size="5.4" font-weight="bold" text-anchor="middle" fill="#000" stroke="#000" stroke-width="0.22" letter-spacing="0.4">***</text>
<line x1="85.8" y1="627.5" x2="85.8" y2="630" stroke="#000" stroke-width="0.8"/>
<line x1="97.1" y1="620.98" x2="97.1" y2="623.17" stroke="#333" stroke-width="0.8"/>
<line x1="95.5" y1="620.98" x2="98.7" y2="620.98" stroke="#333" stroke-width="0.8"/>
<rect x="93.5" y="623.57" width="7.2" height="3.93" fill="#fff" stroke="#333" stroke-width="0.8"/>
<text x="97.3" y="620.68" font-family='"Liberation Sans", sans-serif' font-size="5.4" font-weight="bold" text-anchor="middle" fill="#000" stroke="#000" stroke-width="0.22" letter-spacing="0.4">***</text>
<line x1="97.1" y1="627.5" x2="97.1" y2="630" stroke="#000" stroke-width="0.8"/>
<line x1="108.4" y1="622.76" x2="108.4" y2="624.3" stroke="#333" stroke-width="0.8"/>
<line x1="106.8" y1="622.76" x2="110" y2="622.76" stroke="#333" stroke-width="0.8"/>
<rect x="104.8" y="624.7" width="7.2" height="2.8" fill="#fff" stroke="#333" stroke-width="0.8"/>
<text x="108.6" y="622.46" font-family='"Liberation Sans", sans-serif' font-size="5.4" font-weight="bold" text-anchor="middle" fill="#000" stroke="#000" stroke-width="0.22" letter-spacing="0.4">***</text>
<line x1="108.4" y1="627.5" x2="108.4" y2="630" stroke="#000" stroke-width="0.8"/>
<line x1="44.4" y1="555.9" x2="44.4" y2="628" stroke="#000" stroke-width="1"/>
<line x1="41.4" y1="627.5" x2="44.4" y2="627.5" stroke="#000" stroke-width="0.9"/>
<text x="40.2" y="630.2" font-family='"Liberation Sans", sans-serif' font-size="7.5" font-weight="bold" text-anchor="end" fill="#000" stroke="#000" stroke-width="0.22" >0</text>
<line x1="41.4" y1="615.65" x2="44.4" y2="615.65" stroke="#000" stroke-width="0.9"/>
<text x="40.2" y="618.35" font-family='"Liberation Sans", sans-serif' font-size="7.5" font-weight="bold" text-anchor="end" fill="#000" stroke="#000" stroke-width="0.22" >20</text>
<line x1="41.4" y1="603.8" x2="44.4" y2="603.8" stroke="#000" stroke-width="0.9"/>
<text x="40.2" y="606.5" font-family='"Liberation Sans", sans-serif' font-size="7.5" font-weight="bold" text-anchor="end" fill="#000" stroke="#000" stroke-width="0.22" >40</text>
<line x1="41.4" y1="591.95" x2="44.4" y2="591.95" stroke="#000" stroke-width="0.9"/>
<text x="40.2" y="594.65" font-family='"Liberation Sans", sans-serif' font-size="7.5" font-weight="bold" text-anchor="end" fill="#000" stroke="#000" stroke-width="0.22" >60</text>
<line x1="41.4" y1="580.1" x2="44.4" y2="580.1" stroke="#000" stroke-width="0.9"/>
<text x="40.2" y="582.8" font-family='"Liberation Sans", sans-serif' font-size="7.5" font-weight="bold" text-anchor="end" fill="#000" stroke="#000" stroke-width="0.22" >80</text>
<line x1="41.4" y1="568.25" x2="44.4" y2="568.25" stroke="#000" stroke-width="0.9"/>
<text x="40.2" y="570.95" font-family='"Liberation Sans", sans-serif' font-size="7.5" font-weight="bold" text-anchor="end" fill="#000" stroke="#000" stroke-width="0.22" >100</text>
<line x1="41.4" y1="556.4" x2="44.4" y2="556.4" stroke="#000" stroke-width="0.9"/>
<text x="40.2" y="559.1" font-family='"Liberation Sans", sans-serif' font-size="7.5" font-weight="bold" text-anchor="end" fill="#000" stroke="#000" stroke-width="0.22" >120</text>
<line x1="43.9" y1="627.5" x2="115.6" y2="627.5" stroke="#000" stroke-width="1.1"/>
<text x="54.4" y="638.3" font-family='"Liberation Sans", sans-serif' font-size="7.6" font-weight="bold" text-anchor="end" fill="#000" stroke="#000" stroke-width="0.22" transform="rotate(-45 54.4 638.3)">Control</text>
<text x="65.7" y="638.3" font-family='"Liberation Sans", sans-serif' font-size="7.6" font-weight="bold" text-anchor="end" fill="#000" stroke="#000" stroke-width="0.22" transform="rotate(-45 65.7 638.3)">0.01 µM</text>
<text x="77" y="638.3" font-family='"Liberation Sans", sans-serif' font-size="7.6" font-weight="bold" text-anchor="end" fill="#000" stroke="#000" stroke-width="0.22" transform="rotate(-45 77 638.3)">0.1 µM</text>
<text x="88.3" y="638.3" font-family='"Liberation Sans", sans-serif' font-size="7.6" font-weight="bold" text-anchor="end" fill="#000" stroke="#000" stroke-width="0.22" transform="rotate(-45 88.3 638.3)">0.5 µM</text>
<text x="99.6" y="638.3" font-family='"Liberation Sans", sans-serif' font-size="7.6" font-weight="bold" text-anchor="end" fill="#000" stroke="#000" stroke-width="0.22" transform="rotate(-45 99.6 638.3)">1 µM</text>
<text x="110.9" y="638.3" font-family='"Liberation Sans", sans-serif' font-size="7.6" font-weight="bold" text-anchor="end" fill="#000" stroke="#000" stroke-width="0.22" transform="rotate(-45 110.9 638.3)">5 µM</text>
<text x="82.8" y="551.2" font-family='"Liberation Sans", sans-serif' font-size="9.2" font-weight="bold" text-anchor="middle" fill="#000" stroke="#000" stroke-width="0.22" >72 h</text>
<text x="23" y="590" font-family='"Liberation Sans", sans-serif' font-size="8.9" font-weight="bold" text-anchor="middle" fill="#000" stroke="#000" stroke-width="0.22" transform="rotate(-90 23 590)">Viable cells (% control)</text>
<rect x="177.5" y="627.91" width="7.5" height="0.59" fill="#000"/>
<line x1="181.25" y1="628.5" x2="181.25" y2="631" stroke="#000" stroke-width="0.8"/>
<line x1="192.5" y1="617.46" x2="192.5" y2="620.79" stroke="#000" stroke-width="0.8"/>
<line x1="190.9" y1="617.46" x2="194.1" y2="617.46" stroke="#000" stroke-width="0.8"/>
<rect x="188.75" y="620.79" width="7.5" height="7.71" fill="#000"/>
<line x1="192.5" y1="628.5" x2="192.5" y2="631" stroke="#000" stroke-width="0.8"/>
<line x1="203.75" y1="615.21" x2="203.75" y2="619.24" stroke="#000" stroke-width="0.8"/>
<line x1="202.15" y1="615.21" x2="205.35" y2="615.21" stroke="#000" stroke-width="0.8"/>
<rect x="200" y="619.24" width="7.5" height="9.26" fill="#000"/>
<line x1="203.75" y1="628.5" x2="203.75" y2="631" stroke="#000" stroke-width="0.8"/>
<line x1="215" y1="574.51" x2="215" y2="594.09" stroke="#000" stroke-width="0.8"/>
<line x1="213.4" y1="574.51" x2="216.6" y2="574.51" stroke="#000" stroke-width="0.8"/>
<rect x="211.25" y="594.09" width="7.5" height="34.41" fill="#000"/>
<line x1="215" y1="628.5" x2="215" y2="631" stroke="#000" stroke-width="0.8"/>
<line x1="226.25" y1="579.25" x2="226.25" y2="596.82" stroke="#000" stroke-width="0.8"/>
<line x1="224.65" y1="579.25" x2="227.85" y2="579.25" stroke="#000" stroke-width="0.8"/>
<rect x="222.5" y="596.82" width="7.5" height="31.68" fill="#000"/>
<line x1="226.25" y1="628.5" x2="226.25" y2="631" stroke="#000" stroke-width="0.8"/>
<line x1="237.5" y1="568.81" x2="237.5" y2="571.07" stroke="#000" stroke-width="0.8"/>
<line x1="235.9" y1="568.81" x2="239.1" y2="568.81" stroke="#000" stroke-width="0.8"/>
<rect x="233.75" y="571.07" width="7.5" height="57.43" fill="#000"/>
<text x="237.7" y="569.01" font-family='"Liberation Sans", sans-serif' font-size="5.4" font-weight="bold" text-anchor="middle" fill="#000" stroke="#000" stroke-width="0.22" letter-spacing="0.4">*</text>
<line x1="237.5" y1="628.5" x2="237.5" y2="631" stroke="#000" stroke-width="0.8"/>
<line x1="173.6" y1="556.8" x2="173.6" y2="629" stroke="#000" stroke-width="1"/>
<line x1="170.6" y1="628.5" x2="173.6" y2="628.5" stroke="#000" stroke-width="0.9"/>
<text x="169.4" y="631.2" font-family='"Liberation Sans", sans-serif' font-size="7.5" font-weight="bold" text-anchor="end" fill="#000" stroke="#000" stroke-width="0.22" >0</text>
<line x1="170.6" y1="604.77" x2="173.6" y2="604.77" stroke="#000" stroke-width="0.9"/>
<text x="169.4" y="607.47" font-family='"Liberation Sans", sans-serif' font-size="7.5" font-weight="bold" text-anchor="end" fill="#000" stroke="#000" stroke-width="0.22" >20</text>
<line x1="170.6" y1="581.03" x2="173.6" y2="581.03" stroke="#000" stroke-width="0.9"/>
<text x="169.4" y="583.73" font-family='"Liberation Sans", sans-serif' font-size="7.5" font-weight="bold" text-anchor="end" fill="#000" stroke="#000" stroke-width="0.22" >40</text>
<line x1="170.6" y1="557.3" x2="173.6" y2="557.3" stroke="#000" stroke-width="0.9"/>
<text x="169.4" y="560" font-family='"Liberation Sans", sans-serif' font-size="7.5" font-weight="bold" text-anchor="end" fill="#000" stroke="#000" stroke-width="0.22" >60</text>
<line x1="173.1" y1="628.5" x2="246" y2="628.5" stroke="#000" stroke-width="1.1"/>
<text x="183.75" y="639.3" font-family='"Liberation Sans", sans-serif' font-size="7.6" font-weight="bold" text-anchor="end" fill="#000" stroke="#000" stroke-width="0.22" transform="rotate(-45 183.75 639.3)">Control</text>
<text x="195" y="639.3" font-family='"Liberation Sans", sans-serif' font-size="7.6" font-weight="bold" text-anchor="end" fill="#000" stroke="#000" stroke-width="0.22" transform="rotate(-45 195 639.3)">0.01 µM</text>
<text x="206.25" y="639.3" font-family='"Liberation Sans", sans-serif' font-size="7.6" font-weight="bold" text-anchor="end" fill="#000" stroke="#000" stroke-width="0.22" transform="rotate(-45 206.25 639.3)">0.1 µM</text>
<text x="217.5" y="639.3" font-family='"Liberation Sans", sans-serif' font-size="7.6" font-weight="bold" text-anchor="end" fill="#000" stroke="#000" stroke-width="0.22" transform="rotate(-45 217.5 639.3)">0.5 µM</text>
<text x="228.75" y="639.3" font-family='"Liberation Sans", sans-serif' font-size="7.6" font-weight="bold" text-anchor="end" fill="#000" stroke="#000" stroke-width="0.22" transform="rotate(-45 228.75 639.3)">1 µM</text>
<text x="240" y="639.3" font-family='"Liberation Sans", sans-serif' font-size="7.6" font-weight="bold" text-anchor="end" fill="#000" stroke="#000" stroke-width="0.22" transform="rotate(-45 240 639.3)">5 µM</text>
<text x="212" y="551.7" font-family='"Liberation Sans", sans-serif' font-size="9.2" font-weight="bold" text-anchor="middle" fill="#000" stroke="#000" stroke-width="0.22" >72 h</text>
<text x="157.5" y="591" font-family='"Liberation Sans", sans-serif' font-size="8.9" font-weight="bold" text-anchor="middle" fill="#000" stroke="#000" stroke-width="0.22" transform="rotate(-90 157.5 591)">Dead cells (% control)</text>
<rect x="321.8" y="562.8" width="7.6" height="59.1" fill="#fff" stroke="#333" stroke-width="0.8"/>
<line x1="325.6" y1="621.9" x2="325.6" y2="624.4" stroke="#000" stroke-width="0.8"/>
<line x1="336.85" y1="561.57" x2="336.85" y2="569.3" stroke="#333" stroke-width="0.8"/>
<line x1="335.25" y1="561.57" x2="338.45" y2="561.57" stroke="#333" stroke-width="0.8"/>
<rect x="333.05" y="569.7" width="7.6" height="52.2" fill="#fff" stroke="#333" stroke-width="0.8"/>
<line x1="336.85" y1="621.9" x2="336.85" y2="624.4" stroke="#000" stroke-width="0.8"/>
<line x1="348.1" y1="592.86" x2="348.1" y2="600.84" stroke="#333" stroke-width="0.8"/>
<line x1="346.5" y1="592.86" x2="349.7" y2="592.86" stroke="#333" stroke-width="0.8"/>
<rect x="344.3" y="601.24" width="7.6" height="20.66" fill="#fff" stroke="#333" stroke-width="0.8"/>
<text x="348.3" y="592.56" font-family='"Liberation Sans", sans-serif' font-size="5.4" font-weight="bold" text-anchor="middle" fill="#000" stroke="#000" stroke-width="0.22" letter-spacing="0.4">***</text>
<line x1="348.1" y1="621.9" x2="348.1" y2="624.4" stroke="#000" stroke-width="0.8"/>
<line x1="359.35" y1="612.98" x2="359.35" y2="616.19" stroke="#333" stroke-width="0.8"/>
<line x1="357.75" y1="612.98" x2="360.95" y2="612.98" stroke="#333" stroke-width="0.8"/>
<rect x="355.55" y="616.59" width="7.6" height="5.31" fill="#fff" stroke="#333" stroke-width="0.8"/>
<text x="359.55" y="612.68" font-family='"Liberation Sans", sans-serif' font-size="5.4" font-weight="bold" text-anchor="middle" fill="#000" stroke="#000" stroke-width="0.22" letter-spacing="0.4">***</text>
<line x1="359.35" y1="621.9" x2="359.35" y2="624.4" stroke="#000" stroke-width="0.8"/>
<line x1="370.6" y1="614.52" x2="370.6" y2="617.26" stroke="#333" stroke-width="0.8"/>
<line x1="369" y1="614.52" x2="372.2" y2="614.52" stroke="#333" stroke-width="0.8"/>
<rect x="366.8" y="617.66" width="7.6" height="4.24" fill="#fff" stroke="#333" stroke-width="0.8"/>
<text x="370.8" y="614.22" font-family='"Liberation Sans", sans-serif' font-size="5.4" font-weight="bold" text-anchor="middle" fill="#000" stroke="#000" stroke-width="0.22" letter-spacing="0.4">***</text>
<line x1="370.6" y1="621.9" x2="370.6" y2="624.4" stroke="#000" stroke-width="0.8"/>
<line x1="381.85" y1="617.26" x2="381.85" y2="619.28" stroke="#333" stroke-width="0.8"/>
<line x1="380.25" y1="617.26" x2="383.45" y2="617.26" stroke="#333" stroke-width="0.8"/>
<rect x="378.05" y="619.68" width="7.6" height="2.22" fill="#fff" stroke="#333" stroke-width="0.8"/>
<text x="382.05" y="616.96" font-family='"Liberation Sans", sans-serif' font-size="5.4" font-weight="bold" text-anchor="middle" fill="#000" stroke="#000" stroke-width="0.22" letter-spacing="0.4">***</text>
<line x1="381.85" y1="621.9" x2="381.85" y2="624.4" stroke="#000" stroke-width="0.8"/>
<line x1="318.6" y1="550" x2="318.6" y2="622.4" stroke="#000" stroke-width="1"/>
<line x1="315.6" y1="621.9" x2="318.6" y2="621.9" stroke="#000" stroke-width="0.9"/>
<text x="314.4" y="624.6" font-family='"Liberation Sans", sans-serif' font-size="7.5" font-weight="bold" text-anchor="end" fill="#000" stroke="#000" stroke-width="0.22" >0</text>
<line x1="315.6" y1="610" x2="318.6" y2="610" stroke="#000" stroke-width="0.9"/>
<text x="314.4" y="612.7" font-family='"Liberation Sans", sans-serif' font-size="7.5" font-weight="bold" text-anchor="end" fill="#000" stroke="#000" stroke-width="0.22" >20</text>
<line x1="315.6" y1="598.1" x2="318.6" y2="598.1" stroke="#000" stroke-width="0.9"/>
<text x="314.4" y="600.8" font-family='"Liberation Sans", sans-serif' font-size="7.5" font-weight="bold" text-anchor="end" fill="#000" stroke="#000" stroke-width="0.22" >40</text>
<line x1="315.6" y1="586.2" x2="318.6" y2="586.2" stroke="#000" stroke-width="0.9"/>
<text x="314.4" y="588.9" font-family='"Liberation Sans", sans-serif' font-size="7.5" font-weight="bold" text-anchor="end" fill="#000" stroke="#000" stroke-width="0.22" >60</text>
<line x1="315.6" y1="574.3" x2="318.6" y2="574.3" stroke="#000" stroke-width="0.9"/>
<text x="314.4" y="577" font-family='"Liberation Sans", sans-serif' font-size="7.5" font-weight="bold" text-anchor="end" fill="#000" stroke="#000" stroke-width="0.22" >80</text>
<line x1="315.6" y1="562.4" x2="318.6" y2="562.4" stroke="#000" stroke-width="0.9"/>
<text x="314.4" y="565.1" font-family='"Liberation Sans", sans-serif' font-size="7.5" font-weight="bold" text-anchor="end" fill="#000" stroke="#000" stroke-width="0.22" >100</text>
<line x1="315.6" y1="550.5" x2="318.6" y2="550.5" stroke="#000" stroke-width="0.9"/>
<text x="314.4" y="553.2" font-family='"Liberation Sans", sans-serif' font-size="7.5" font-weight="bold" text-anchor="end" fill="#000" stroke="#000" stroke-width="0.22" >120</text>
<line x1="318.1" y1="621.9" x2="391" y2="621.9" stroke="#000" stroke-width="1.1"/>
<text x="328.1" y="632.7" font-family='"Liberation Sans", sans-serif' font-size="7.6" font-weight="bold" text-anchor="end" fill="#000" stroke="#000" stroke-width="0.22" transform="rotate(-45 328.1 632.7)">Control</text>
<text x="339.35" y="632.7" font-family='"Liberation Sans", sans-serif' font-size="7.6" font-weight="bold" text-anchor="end" fill="#000" stroke="#000" stroke-width="0.22" transform="rotate(-45 339.35 632.7)">0.01 µM</text>
<text x="350.6" y="632.7" font-family='"Liberation Sans", sans-serif' font-size="7.6" font-weight="bold" text-anchor="end" fill="#000" stroke="#000" stroke-width="0.22" transform="rotate(-45 350.6 632.7)">0.1 µM</text>
<text x="361.85" y="632.7" font-family='"Liberation Sans", sans-serif' font-size="7.6" font-weight="bold" text-anchor="end" fill="#000" stroke="#000" stroke-width="0.22" transform="rotate(-45 361.85 632.7)">0.5 µM</text>
<text x="373.1" y="632.7" font-family='"Liberation Sans", sans-serif' font-size="7.6" font-weight="bold" text-anchor="end" fill="#000" stroke="#000" stroke-width="0.22" transform="rotate(-45 373.1 632.7)">1 µM</text>
<text x="384.35" y="632.7" font-family='"Liberation Sans", sans-serif' font-size="7.6" font-weight="bold" text-anchor="end" fill="#000" stroke="#000" stroke-width="0.22" transform="rotate(-45 384.35 632.7)">5 µM</text>
<text x="357" y="545" font-family='"Liberation Sans", sans-serif' font-size="9.2" font-weight="bold" text-anchor="middle" fill="#000" stroke="#000" stroke-width="0.22" >72 h</text>
<text x="297.5" y="585" font-family='"Liberation Sans", sans-serif' font-size="8.9" font-weight="bold" text-anchor="middle" fill="#000" stroke="#000" stroke-width="0.22" transform="rotate(-90 297.5 585)">Viable cells (% control)</text>
<line x1="467.5" y1="621.9" x2="467.5" y2="624.4" stroke="#000" stroke-width="0.8"/>
<line x1="478.8" y1="611.19" x2="478.8" y2="614.52" stroke="#000" stroke-width="0.8"/>
<line x1="477.2" y1="611.19" x2="480.4" y2="611.19" stroke="#000" stroke-width="0.8"/>
<rect x="475.05" y="614.52" width="7.5" height="7.38" fill="#000"/>
<line x1="478.8" y1="621.9" x2="478.8" y2="624.4" stroke="#000" stroke-width="0.8"/>
<line x1="490.1" y1="606.43" x2="490.1" y2="609.17" stroke="#000" stroke-width="0.8"/>
<line x1="488.5" y1="606.43" x2="491.7" y2="606.43" stroke="#000" stroke-width="0.8"/>
<rect x="486.35" y="609.17" width="7.5" height="12.73" fill="#000"/>
<line x1="490.1" y1="621.9" x2="490.1" y2="624.4" stroke="#000" stroke-width="0.8"/>
<line x1="501.4" y1="579.42" x2="501.4" y2="590.25" stroke="#000" stroke-width="0.8"/>
<line x1="499.8" y1="579.42" x2="503" y2="579.42" stroke="#000" stroke-width="0.8"/>
<rect x="497.65" y="590.25" width="7.5" height="31.65" fill="#000"/>
<line x1="501.4" y1="621.9" x2="501.4" y2="624.4" stroke="#000" stroke-width="0.8"/>
<line x1="512.7" y1="561.69" x2="512.7" y2="576.68" stroke="#000" stroke-width="0.8"/>
<line x1="511.1" y1="561.69" x2="514.3" y2="561.69" stroke="#000" stroke-width="0.8"/>
<rect x="508.95" y="576.68" width="7.5" height="45.22" fill="#000"/>
<text x="512.9" y="562.4" font-family='"Liberation Sans", sans-serif' font-size="5.4" font-weight="bold" text-anchor="middle" fill="#000" stroke="#000" stroke-width="0.22" letter-spacing="0.4">*</text>
<line x1="512.7" y1="621.9" x2="512.7" y2="624.4" stroke="#000" stroke-width="0.8"/>
<line x1="524" y1="555.26" x2="524" y2="565.02" stroke="#000" stroke-width="0.8"/>
<line x1="522.4" y1="555.26" x2="525.6" y2="555.26" stroke="#000" stroke-width="0.8"/>
<rect x="520.25" y="565.02" width="7.5" height="56.88" fill="#000"/>
<text x="524.2" y="555.46" font-family='"Liberation Sans", sans-serif' font-size="5.4" font-weight="bold" text-anchor="middle" fill="#000" stroke="#000" stroke-width="0.22" letter-spacing="0.4">**</text>
<line x1="524" y1="621.9" x2="524" y2="624.4" stroke="#000" stroke-width="0.8"/>
<line x1="460.5" y1="550" x2="460.5" y2="622.4" stroke="#000" stroke-width="1"/>
<line x1="457.5" y1="621.9" x2="460.5" y2="621.9" stroke="#000" stroke-width="0.9"/>
<text x="456.3" y="624.6" font-family='"Liberation Sans", sans-serif' font-size="7.5" font-weight="bold" text-anchor="end" fill="#000" stroke="#000" stroke-width="0.22" >0</text>
<line x1="457.5" y1="598.1" x2="460.5" y2="598.1" stroke="#000" stroke-width="0.9"/>
<text x="456.3" y="600.8" font-family='"Liberation Sans", sans-serif' font-size="7.5" font-weight="bold" text-anchor="end" fill="#000" stroke="#000" stroke-width="0.22" >20</text>
<line x1="457.5" y1="574.3" x2="460.5" y2="574.3" stroke="#000" stroke-width="0.9"/>
<text x="456.3" y="577" font-family='"Liberation Sans", sans-serif' font-size="7.5" font-weight="bold" text-anchor="end" fill="#000" stroke="#000" stroke-width="0.22" >40</text>
<line x1="457.5" y1="550.5" x2="460.5" y2="550.5" stroke="#000" stroke-width="0.9"/>
<text x="456.3" y="553.2" font-family='"Liberation Sans", sans-serif' font-size="7.5" font-weight="bold" text-anchor="end" fill="#000" stroke="#000" stroke-width="0.22" >60</text>
<line x1="460" y1="621.9" x2="532" y2="621.9" stroke="#000" stroke-width="1.1"/>
<text x="470" y="632.7" font-family='"Liberation Sans", sans-serif' font-size="7.6" font-weight="bold" text-anchor="end" fill="#000" stroke="#000" stroke-width="0.22" transform="rotate(-45 470 632.7)">Control</text>
<text x="481.3" y="632.7" font-family='"Liberation Sans", sans-serif' font-size="7.6" font-weight="bold" text-anchor="end" fill="#000" stroke="#000" stroke-width="0.22" transform="rotate(-45 481.3 632.7)">0.01 µM</text>
<text x="492.6" y="632.7" font-family='"Liberation Sans", sans-serif' font-size="7.6" font-weight="bold" text-anchor="end" fill="#000" stroke="#000" stroke-width="0.22" transform="rotate(-45 492.6 632.7)">0.1 µM</text>
<text x="503.9" y="632.7" font-family='"Liberation Sans", sans-serif' font-size="7.6" font-weight="bold" text-anchor="end" fill="#000" stroke="#000" stroke-width="0.22" transform="rotate(-45 503.9 632.7)">0.5 µM</text>
<text x="515.2" y="632.7" font-family='"Liberation Sans", sans-serif' font-size="7.6" font-weight="bold" text-anchor="end" fill="#000" stroke="#000" stroke-width="0.22" transform="rotate(-45 515.2 632.7)">1 µM</text>
<text x="526.5" y="632.7" font-family='"Liberation Sans", sans-serif' font-size="7.6" font-weight="bold" text-anchor="end" fill="#000" stroke="#000" stroke-width="0.22" transform="rotate(-45 526.5 632.7)">5 µM</text>
<text x="498.5" y="545" font-family='"Liberation Sans", sans-serif' font-size="9.2" font-weight="bold" text-anchor="middle" fill="#000" stroke="#000" stroke-width="0.22" >72 h</text>
<text x="443" y="585" font-family='"Liberation Sans", sans-serif' font-size="8.9" font-weight="bold" text-anchor="middle" fill="#000" stroke="#000" stroke-width="0.22" transform="rotate(-90 443 585)">Dead cells (% control)</text>
</svg>
</body></html>
